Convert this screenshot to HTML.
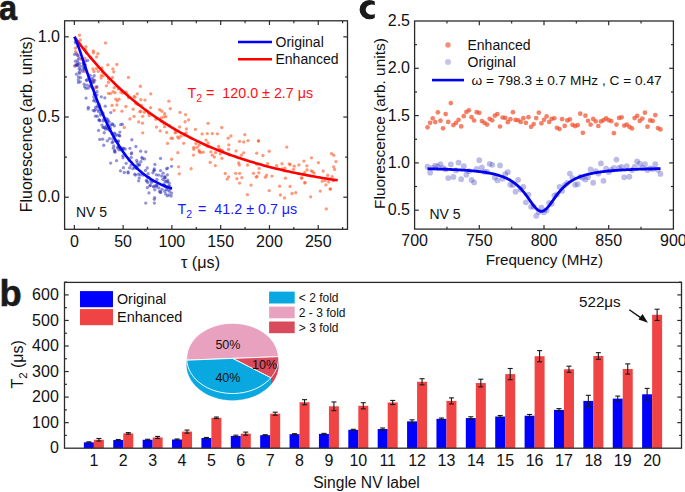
<!DOCTYPE html>
<html><head><meta charset="utf-8"><style>
html,body{margin:0;padding:0;background:#fff;width:685px;height:492px;overflow:hidden}
svg{display:block;font-family:"Liberation Sans", sans-serif}
</style></head><body>
<svg width="685" height="492" viewBox="0 0 685 492">
<defs>
<clipPath id="clipa"><rect x="64.6" y="20.8" width="282.9" height="208.5"/></clipPath>
<clipPath id="clipcl"><rect x="350" y="0" width="24.8" height="30"/></clipPath>
<clipPath id="clipc"><rect x="414.6" y="21.0" width="258.79999999999995" height="208.1"/></clipPath>
</defs>
<rect width="685" height="492" fill="#fff"/>
<g clip-path="url(#clipa)">
<circle cx="159.65" cy="109.73" r="1.65" fill="#ff5a28" fill-opacity="0.62"/>
<circle cx="93.43" cy="52.76" r="1.65" fill="#ff5a28" fill-opacity="0.62"/>
<circle cx="215.5" cy="152.67" r="1.65" fill="#ff5a28" fill-opacity="0.62"/>
<circle cx="208.01" cy="142.91" r="1.65" fill="#ff5a28" fill-opacity="0.62"/>
<circle cx="84.23" cy="64.52" r="1.65" fill="#ff5a28" fill-opacity="0.62"/>
<circle cx="98.25" cy="71.3" r="1.65" fill="#ff5a28" fill-opacity="0.62"/>
<circle cx="186.17" cy="132.99" r="1.65" fill="#ff5a28" fill-opacity="0.62"/>
<circle cx="133.15" cy="109.22" r="1.65" fill="#ff5a28" fill-opacity="0.62"/>
<circle cx="239.61" cy="141.39" r="1.65" fill="#ff5a28" fill-opacity="0.62"/>
<circle cx="178.84" cy="138.18" r="1.65" fill="#ff5a28" fill-opacity="0.62"/>
<circle cx="331.49" cy="153.6" r="1.65" fill="#ff5a28" fill-opacity="0.62"/>
<circle cx="150.64" cy="107.67" r="1.65" fill="#ff5a28" fill-opacity="0.62"/>
<circle cx="112.35" cy="77.49" r="1.65" fill="#ff5a28" fill-opacity="0.62"/>
<circle cx="289.31" cy="163.81" r="1.65" fill="#ff5a28" fill-opacity="0.62"/>
<circle cx="121.96" cy="111.17" r="1.65" fill="#ff5a28" fill-opacity="0.62"/>
<circle cx="172.44" cy="138.42" r="1.65" fill="#ff5a28" fill-opacity="0.62"/>
<circle cx="218.63" cy="146.36" r="1.65" fill="#ff5a28" fill-opacity="0.62"/>
<circle cx="128.6" cy="97.68" r="1.65" fill="#ff5a28" fill-opacity="0.62"/>
<circle cx="253.57" cy="173.29" r="1.65" fill="#ff5a28" fill-opacity="0.62"/>
<circle cx="228.59" cy="149.32" r="1.65" fill="#ff5a28" fill-opacity="0.62"/>
<circle cx="193.72" cy="147.43" r="1.65" fill="#ff5a28" fill-opacity="0.62"/>
<circle cx="258.46" cy="140.99" r="1.65" fill="#ff5a28" fill-opacity="0.62"/>
<circle cx="138.65" cy="121.94" r="1.65" fill="#ff5a28" fill-opacity="0.62"/>
<circle cx="304.86" cy="182.37" r="1.65" fill="#ff5a28" fill-opacity="0.62"/>
<circle cx="266.48" cy="175.26" r="1.65" fill="#ff5a28" fill-opacity="0.62"/>
<circle cx="105.45" cy="42.94" r="1.65" fill="#ff5a28" fill-opacity="0.62"/>
<circle cx="184.48" cy="135.03" r="1.65" fill="#ff5a28" fill-opacity="0.62"/>
<circle cx="203.14" cy="152.14" r="1.65" fill="#ff5a28" fill-opacity="0.62"/>
<circle cx="84.68" cy="71.63" r="1.65" fill="#ff5a28" fill-opacity="0.62"/>
<circle cx="225.28" cy="173.5" r="1.65" fill="#ff5a28" fill-opacity="0.62"/>
<circle cx="304.95" cy="183.08" r="1.65" fill="#ff5a28" fill-opacity="0.62"/>
<circle cx="230.91" cy="135.99" r="1.65" fill="#ff5a28" fill-opacity="0.62"/>
<circle cx="227.09" cy="179.09" r="1.65" fill="#ff5a28" fill-opacity="0.62"/>
<circle cx="323.17" cy="171.01" r="1.65" fill="#ff5a28" fill-opacity="0.62"/>
<circle cx="199.23" cy="145.03" r="1.65" fill="#ff5a28" fill-opacity="0.62"/>
<circle cx="259.12" cy="168.38" r="1.65" fill="#ff5a28" fill-opacity="0.62"/>
<circle cx="244.8" cy="134.69" r="1.65" fill="#ff5a28" fill-opacity="0.62"/>
<circle cx="149.31" cy="115.66" r="1.65" fill="#ff5a28" fill-opacity="0.62"/>
<circle cx="175.97" cy="132.27" r="1.65" fill="#ff5a28" fill-opacity="0.62"/>
<circle cx="195.96" cy="143.58" r="1.65" fill="#ff5a28" fill-opacity="0.62"/>
<circle cx="118.62" cy="87.94" r="1.65" fill="#ff5a28" fill-opacity="0.62"/>
<circle cx="276.7" cy="165.63" r="1.65" fill="#ff5a28" fill-opacity="0.62"/>
<circle cx="108.42" cy="82.49" r="1.65" fill="#ff5a28" fill-opacity="0.62"/>
<circle cx="303.88" cy="161.11" r="1.65" fill="#ff5a28" fill-opacity="0.62"/>
<circle cx="95.58" cy="87.23" r="1.65" fill="#ff5a28" fill-opacity="0.62"/>
<circle cx="307.03" cy="169.88" r="1.65" fill="#ff5a28" fill-opacity="0.62"/>
<circle cx="290.15" cy="164.66" r="1.65" fill="#ff5a28" fill-opacity="0.62"/>
<circle cx="183.74" cy="143.31" r="1.65" fill="#ff5a28" fill-opacity="0.62"/>
<circle cx="168.85" cy="101.21" r="1.65" fill="#ff5a28" fill-opacity="0.62"/>
<circle cx="114.11" cy="110.46" r="1.65" fill="#ff5a28" fill-opacity="0.62"/>
<circle cx="120.77" cy="92.12" r="1.65" fill="#ff5a28" fill-opacity="0.62"/>
<circle cx="202.09" cy="133.97" r="1.65" fill="#ff5a28" fill-opacity="0.62"/>
<circle cx="229.52" cy="154.95" r="1.65" fill="#ff5a28" fill-opacity="0.62"/>
<circle cx="184.7" cy="134.26" r="1.65" fill="#ff5a28" fill-opacity="0.62"/>
<circle cx="171.61" cy="159.24" r="1.65" fill="#ff5a28" fill-opacity="0.62"/>
<circle cx="256.22" cy="177.08" r="1.65" fill="#ff5a28" fill-opacity="0.62"/>
<circle cx="210.13" cy="162.47" r="1.65" fill="#ff5a28" fill-opacity="0.62"/>
<circle cx="88.58" cy="77.88" r="1.65" fill="#ff5a28" fill-opacity="0.62"/>
<circle cx="311.28" cy="170.86" r="1.65" fill="#ff5a28" fill-opacity="0.62"/>
<circle cx="284.51" cy="197.93" r="1.65" fill="#ff5a28" fill-opacity="0.62"/>
<circle cx="177.7" cy="136.93" r="1.65" fill="#ff5a28" fill-opacity="0.62"/>
<circle cx="241.42" cy="155.13" r="1.65" fill="#ff5a28" fill-opacity="0.62"/>
<circle cx="90.75" cy="57.72" r="1.65" fill="#ff5a28" fill-opacity="0.62"/>
<circle cx="117.1" cy="86.36" r="1.65" fill="#ff5a28" fill-opacity="0.62"/>
<circle cx="163.92" cy="123.61" r="1.65" fill="#ff5a28" fill-opacity="0.62"/>
<circle cx="114.2" cy="87.63" r="1.65" fill="#ff5a28" fill-opacity="0.62"/>
<circle cx="101.08" cy="78.07" r="1.65" fill="#ff5a28" fill-opacity="0.62"/>
<circle cx="304.65" cy="172.49" r="1.65" fill="#ff5a28" fill-opacity="0.62"/>
<circle cx="236.09" cy="150.96" r="1.65" fill="#ff5a28" fill-opacity="0.62"/>
<circle cx="165.85" cy="116.7" r="1.65" fill="#ff5a28" fill-opacity="0.62"/>
<circle cx="170.27" cy="108.64" r="1.65" fill="#ff5a28" fill-opacity="0.62"/>
<circle cx="335.93" cy="161.58" r="1.65" fill="#ff5a28" fill-opacity="0.62"/>
<circle cx="197.09" cy="147.31" r="1.65" fill="#ff5a28" fill-opacity="0.62"/>
<circle cx="101.27" cy="75.63" r="1.65" fill="#ff5a28" fill-opacity="0.62"/>
<circle cx="164.6" cy="126.67" r="1.65" fill="#ff5a28" fill-opacity="0.62"/>
<circle cx="116.88" cy="64.5" r="1.65" fill="#ff5a28" fill-opacity="0.62"/>
<circle cx="80.44" cy="40.01" r="1.65" fill="#ff5a28" fill-opacity="0.62"/>
<circle cx="112.97" cy="91.74" r="1.65" fill="#ff5a28" fill-opacity="0.62"/>
<circle cx="217.42" cy="133.83" r="1.65" fill="#ff5a28" fill-opacity="0.62"/>
<circle cx="332.08" cy="176.67" r="1.65" fill="#ff5a28" fill-opacity="0.62"/>
<circle cx="301.75" cy="177.79" r="1.65" fill="#ff5a28" fill-opacity="0.62"/>
<circle cx="170.94" cy="138.03" r="1.65" fill="#ff5a28" fill-opacity="0.62"/>
<circle cx="118.35" cy="88.93" r="1.65" fill="#ff5a28" fill-opacity="0.62"/>
<circle cx="279.55" cy="186.15" r="1.65" fill="#ff5a28" fill-opacity="0.62"/>
<circle cx="161.19" cy="118.02" r="1.65" fill="#ff5a28" fill-opacity="0.62"/>
<circle cx="333.77" cy="155.2" r="1.65" fill="#ff5a28" fill-opacity="0.62"/>
<circle cx="298.93" cy="165.02" r="1.65" fill="#ff5a28" fill-opacity="0.62"/>
<circle cx="269.23" cy="190.59" r="1.65" fill="#ff5a28" fill-opacity="0.62"/>
<circle cx="134.08" cy="116.41" r="1.65" fill="#ff5a28" fill-opacity="0.62"/>
<circle cx="81.99" cy="58.93" r="1.65" fill="#ff5a28" fill-opacity="0.62"/>
<circle cx="81.71" cy="59.18" r="1.65" fill="#ff5a28" fill-opacity="0.62"/>
<circle cx="256.76" cy="153.2" r="1.65" fill="#ff5a28" fill-opacity="0.62"/>
<circle cx="326.29" cy="208.91" r="1.65" fill="#ff5a28" fill-opacity="0.62"/>
<circle cx="334.59" cy="169.44" r="1.65" fill="#ff5a28" fill-opacity="0.62"/>
<circle cx="325.89" cy="184.88" r="1.65" fill="#ff5a28" fill-opacity="0.62"/>
<circle cx="134.1" cy="96.49" r="1.65" fill="#ff5a28" fill-opacity="0.62"/>
<circle cx="126.17" cy="92.21" r="1.65" fill="#ff5a28" fill-opacity="0.62"/>
<circle cx="311.49" cy="157.81" r="1.65" fill="#ff5a28" fill-opacity="0.62"/>
<circle cx="295.72" cy="192.73" r="1.65" fill="#ff5a28" fill-opacity="0.62"/>
<circle cx="284.97" cy="168.2" r="1.65" fill="#ff5a28" fill-opacity="0.62"/>
<circle cx="96.68" cy="87.86" r="1.65" fill="#ff5a28" fill-opacity="0.62"/>
<circle cx="280.41" cy="195.01" r="1.65" fill="#ff5a28" fill-opacity="0.62"/>
<circle cx="271.93" cy="176.11" r="1.65" fill="#ff5a28" fill-opacity="0.62"/>
<circle cx="282.21" cy="168.94" r="1.65" fill="#ff5a28" fill-opacity="0.62"/>
<circle cx="161.94" cy="111.26" r="1.65" fill="#ff5a28" fill-opacity="0.62"/>
<circle cx="178.61" cy="166.84" r="1.65" fill="#ff5a28" fill-opacity="0.62"/>
<circle cx="180.08" cy="112.39" r="1.65" fill="#ff5a28" fill-opacity="0.62"/>
<circle cx="119.13" cy="99.07" r="1.65" fill="#ff5a28" fill-opacity="0.62"/>
<circle cx="107.82" cy="64.95" r="1.65" fill="#ff5a28" fill-opacity="0.62"/>
<circle cx="286.78" cy="147.1" r="1.65" fill="#ff5a28" fill-opacity="0.62"/>
<circle cx="112.86" cy="68.91" r="1.65" fill="#ff5a28" fill-opacity="0.62"/>
<circle cx="247.47" cy="194.7" r="1.65" fill="#ff5a28" fill-opacity="0.62"/>
<circle cx="166.65" cy="132.41" r="1.65" fill="#ff5a28" fill-opacity="0.62"/>
<circle cx="78.11" cy="55.73" r="1.65" fill="#ff5a28" fill-opacity="0.62"/>
<circle cx="330.08" cy="189.02" r="1.65" fill="#ff5a28" fill-opacity="0.62"/>
<circle cx="320.26" cy="191.09" r="1.65" fill="#ff5a28" fill-opacity="0.62"/>
<circle cx="188.62" cy="119.82" r="1.65" fill="#ff5a28" fill-opacity="0.62"/>
<circle cx="129.94" cy="118.95" r="1.65" fill="#ff5a28" fill-opacity="0.62"/>
<circle cx="140.69" cy="111.26" r="1.65" fill="#ff5a28" fill-opacity="0.62"/>
<circle cx="228.82" cy="144.85" r="1.65" fill="#ff5a28" fill-opacity="0.62"/>
<circle cx="142.67" cy="116.28" r="1.65" fill="#ff5a28" fill-opacity="0.62"/>
<circle cx="314.04" cy="173.03" r="1.65" fill="#ff5a28" fill-opacity="0.62"/>
<circle cx="167.54" cy="143.47" r="1.65" fill="#ff5a28" fill-opacity="0.62"/>
<circle cx="312.54" cy="171.6" r="1.65" fill="#ff5a28" fill-opacity="0.62"/>
<circle cx="185.14" cy="121.74" r="1.65" fill="#ff5a28" fill-opacity="0.62"/>
<circle cx="214.43" cy="157.06" r="1.65" fill="#ff5a28" fill-opacity="0.62"/>
<circle cx="212.24" cy="133.63" r="1.65" fill="#ff5a28" fill-opacity="0.62"/>
<circle cx="122.58" cy="93" r="1.65" fill="#ff5a28" fill-opacity="0.62"/>
<circle cx="75.39" cy="48.2" r="1.65" fill="#ff5a28" fill-opacity="0.62"/>
<circle cx="199.07" cy="150.47" r="1.65" fill="#ff5a28" fill-opacity="0.62"/>
<circle cx="265.36" cy="177.3" r="1.65" fill="#ff5a28" fill-opacity="0.62"/>
<circle cx="210.88" cy="151.85" r="1.65" fill="#ff5a28" fill-opacity="0.62"/>
<circle cx="220.65" cy="150.18" r="1.65" fill="#ff5a28" fill-opacity="0.62"/>
<circle cx="221.93" cy="158.36" r="1.65" fill="#ff5a28" fill-opacity="0.62"/>
<circle cx="139.81" cy="111.87" r="1.65" fill="#ff5a28" fill-opacity="0.62"/>
<circle cx="208.08" cy="123.35" r="1.65" fill="#ff5a28" fill-opacity="0.62"/>
<circle cx="222.31" cy="150.31" r="1.65" fill="#ff5a28" fill-opacity="0.62"/>
<circle cx="191.1" cy="168.74" r="1.65" fill="#ff5a28" fill-opacity="0.62"/>
<circle cx="235.69" cy="173.33" r="1.65" fill="#ff5a28" fill-opacity="0.62"/>
<circle cx="256.81" cy="164.16" r="1.65" fill="#ff5a28" fill-opacity="0.62"/>
<circle cx="193.5" cy="155.07" r="1.65" fill="#ff5a28" fill-opacity="0.62"/>
<circle cx="322.34" cy="181.19" r="1.65" fill="#ff5a28" fill-opacity="0.62"/>
<circle cx="258.52" cy="140.84" r="1.65" fill="#ff5a28" fill-opacity="0.62"/>
<circle cx="142.73" cy="132.81" r="1.65" fill="#ff5a28" fill-opacity="0.62"/>
<circle cx="221.73" cy="127.51" r="1.65" fill="#ff5a28" fill-opacity="0.62"/>
<circle cx="110.47" cy="93.61" r="1.65" fill="#ff5a28" fill-opacity="0.62"/>
<circle cx="106.39" cy="85.83" r="1.65" fill="#ff5a28" fill-opacity="0.62"/>
<circle cx="137.74" cy="104.54" r="1.65" fill="#ff5a28" fill-opacity="0.62"/>
<circle cx="93.61" cy="80.57" r="1.65" fill="#ff5a28" fill-opacity="0.62"/>
<circle cx="310.62" cy="196.82" r="1.65" fill="#ff5a28" fill-opacity="0.62"/>
<circle cx="115.03" cy="92.68" r="1.65" fill="#ff5a28" fill-opacity="0.62"/>
<circle cx="112.01" cy="105.43" r="1.65" fill="#ff5a28" fill-opacity="0.62"/>
<circle cx="306.88" cy="165.85" r="1.65" fill="#ff5a28" fill-opacity="0.62"/>
<circle cx="325.23" cy="180.38" r="1.65" fill="#ff5a28" fill-opacity="0.62"/>
<circle cx="179.25" cy="173.82" r="1.65" fill="#ff5a28" fill-opacity="0.62"/>
<circle cx="293.61" cy="169.32" r="1.65" fill="#ff5a28" fill-opacity="0.62"/>
<circle cx="116.88" cy="104.93" r="1.65" fill="#ff5a28" fill-opacity="0.62"/>
<circle cx="163.67" cy="116.9" r="1.65" fill="#ff5a28" fill-opacity="0.62"/>
<circle cx="125.91" cy="106.5" r="1.65" fill="#ff5a28" fill-opacity="0.62"/>
<circle cx="79.49" cy="35.14" r="1.65" fill="#ff5a28" fill-opacity="0.62"/>
<circle cx="220.29" cy="153.85" r="1.65" fill="#ff5a28" fill-opacity="0.62"/>
<circle cx="161.67" cy="121.57" r="1.65" fill="#ff5a28" fill-opacity="0.62"/>
<circle cx="238.69" cy="162.97" r="1.65" fill="#ff5a28" fill-opacity="0.62"/>
<circle cx="333.82" cy="180.14" r="1.65" fill="#ff5a28" fill-opacity="0.62"/>
<circle cx="282" cy="163.76" r="1.65" fill="#ff5a28" fill-opacity="0.62"/>
<circle cx="144.3" cy="112.25" r="1.65" fill="#ff5a28" fill-opacity="0.62"/>
<circle cx="84.78" cy="58.37" r="1.65" fill="#ff5a28" fill-opacity="0.62"/>
<circle cx="108.48" cy="93.39" r="1.65" fill="#ff5a28" fill-opacity="0.62"/>
<circle cx="185.57" cy="114.54" r="1.65" fill="#ff5a28" fill-opacity="0.62"/>
<circle cx="142.47" cy="123.15" r="1.65" fill="#ff5a28" fill-opacity="0.62"/>
<circle cx="113.7" cy="71.81" r="1.65" fill="#ff5a28" fill-opacity="0.62"/>
<circle cx="258.84" cy="172.79" r="1.65" fill="#ff5a28" fill-opacity="0.62"/>
<circle cx="97.92" cy="53.63" r="1.65" fill="#ff5a28" fill-opacity="0.62"/>
<circle cx="186.38" cy="128.99" r="1.65" fill="#ff5a28" fill-opacity="0.62"/>
<circle cx="93.43" cy="50.91" r="1.65" fill="#ff5a28" fill-opacity="0.62"/>
<circle cx="285.5" cy="178.17" r="1.65" fill="#ff5a28" fill-opacity="0.62"/>
<circle cx="96.41" cy="68.54" r="1.65" fill="#ff5a28" fill-opacity="0.62"/>
<circle cx="301.6" cy="178.22" r="1.65" fill="#ff5a28" fill-opacity="0.62"/>
<circle cx="193.87" cy="149.24" r="1.65" fill="#ff5a28" fill-opacity="0.62"/>
<circle cx="318.43" cy="162.65" r="1.65" fill="#ff5a28" fill-opacity="0.62"/>
<circle cx="144.91" cy="100.06" r="1.65" fill="#ff5a28" fill-opacity="0.62"/>
<circle cx="137.16" cy="93.89" r="1.65" fill="#ff5a28" fill-opacity="0.62"/>
<circle cx="103.18" cy="75.66" r="1.65" fill="#ff5a28" fill-opacity="0.62"/>
<circle cx="127.5" cy="94.93" r="1.65" fill="#ff5a28" fill-opacity="0.62"/>
<circle cx="156.53" cy="127.09" r="1.65" fill="#ff5a28" fill-opacity="0.62"/>
<circle cx="150.73" cy="93.86" r="1.65" fill="#ff5a28" fill-opacity="0.62"/>
<circle cx="206.07" cy="140.09" r="1.65" fill="#ff5a28" fill-opacity="0.62"/>
<circle cx="79.14" cy="43.29" r="1.65" fill="#ff5a28" fill-opacity="0.62"/>
<circle cx="140.32" cy="86.24" r="1.65" fill="#ff5a28" fill-opacity="0.62"/>
<circle cx="219.5" cy="148.98" r="1.65" fill="#ff5a28" fill-opacity="0.62"/>
<circle cx="124.26" cy="127.52" r="1.65" fill="#ff5a28" fill-opacity="0.62"/>
<circle cx="102.35" cy="72.18" r="1.65" fill="#ff5a28" fill-opacity="0.62"/>
<circle cx="290.05" cy="186.38" r="1.65" fill="#ff5a28" fill-opacity="0.62"/>
<circle cx="294.18" cy="166.16" r="1.65" fill="#ff5a28" fill-opacity="0.62"/>
<circle cx="177.89" cy="152.68" r="1.65" fill="#ff5a28" fill-opacity="0.62"/>
<circle cx="333.12" cy="180.53" r="1.65" fill="#ff5a28" fill-opacity="0.62"/>
<circle cx="164.62" cy="113.76" r="1.65" fill="#ff5a28" fill-opacity="0.62"/>
<circle cx="241.86" cy="177.62" r="1.65" fill="#ff5a28" fill-opacity="0.62"/>
<circle cx="180.95" cy="136.16" r="1.65" fill="#ff5a28" fill-opacity="0.62"/>
<circle cx="108.55" cy="79.08" r="1.65" fill="#ff5a28" fill-opacity="0.62"/>
<circle cx="92.98" cy="68.99" r="1.65" fill="#ff5a28" fill-opacity="0.62"/>
<circle cx="117.35" cy="100.86" r="1.65" fill="#ff5a28" fill-opacity="0.62"/>
<circle cx="96.61" cy="56.9" r="1.65" fill="#ff5a28" fill-opacity="0.62"/>
<circle cx="250.97" cy="185.04" r="1.65" fill="#ff5a28" fill-opacity="0.62"/>
<circle cx="148.61" cy="113.53" r="1.65" fill="#ff5a28" fill-opacity="0.62"/>
<circle cx="195.37" cy="129.42" r="1.65" fill="#ff5a28" fill-opacity="0.62"/>
<circle cx="115.85" cy="99.18" r="1.65" fill="#ff5a28" fill-opacity="0.62"/>
<circle cx="327.68" cy="175.26" r="1.65" fill="#ff5a28" fill-opacity="0.62"/>
<circle cx="330.53" cy="189.03" r="1.65" fill="#ff5a28" fill-opacity="0.62"/>
<circle cx="328.7" cy="181.96" r="1.65" fill="#ff5a28" fill-opacity="0.62"/>
<circle cx="155.89" cy="119.28" r="1.65" fill="#ff5a28" fill-opacity="0.62"/>
<circle cx="174.87" cy="129.75" r="1.65" fill="#ff5a28" fill-opacity="0.62"/>
<circle cx="199.37" cy="151.75" r="1.65" fill="#ff5a28" fill-opacity="0.62"/>
<circle cx="207.3" cy="146.29" r="1.65" fill="#ff5a28" fill-opacity="0.62"/>
<circle cx="75.66" cy="51.55" r="1.65" fill="#ff5a28" fill-opacity="0.62"/>
<circle cx="179.58" cy="126.92" r="1.65" fill="#ff5a28" fill-opacity="0.62"/>
<circle cx="85.33" cy="49.38" r="1.65" fill="#ff5a28" fill-opacity="0.62"/>
<circle cx="135.67" cy="103.26" r="1.65" fill="#ff5a28" fill-opacity="0.62"/>
<circle cx="228.59" cy="176.86" r="1.65" fill="#ff5a28" fill-opacity="0.62"/>
<circle cx="247.55" cy="164.99" r="1.65" fill="#ff5a28" fill-opacity="0.62"/>
<circle cx="262.94" cy="155.48" r="1.65" fill="#ff5a28" fill-opacity="0.62"/>
<circle cx="160.26" cy="130.97" r="1.65" fill="#ff5a28" fill-opacity="0.62"/>
<circle cx="333.72" cy="166.82" r="1.65" fill="#ff5a28" fill-opacity="0.62"/>
<circle cx="243.77" cy="142.01" r="1.65" fill="#ff5a28" fill-opacity="0.62"/>
<circle cx="85.89" cy="46.75" r="1.65" fill="#ff5a28" fill-opacity="0.62"/>
<circle cx="239.59" cy="183.04" r="1.65" fill="#ff5a28" fill-opacity="0.62"/>
<circle cx="267.64" cy="163.7" r="1.65" fill="#ff5a28" fill-opacity="0.62"/>
<circle cx="212.31" cy="155.14" r="1.65" fill="#ff5a28" fill-opacity="0.62"/>
<circle cx="207.2" cy="133.56" r="1.65" fill="#ff5a28" fill-opacity="0.62"/>
<circle cx="292.02" cy="193.5" r="1.65" fill="#ff5a28" fill-opacity="0.62"/>
<circle cx="228.19" cy="138.22" r="1.65" fill="#ff5a28" fill-opacity="0.62"/>
<circle cx="256.97" cy="176.52" r="1.65" fill="#ff5a28" fill-opacity="0.62"/>
<circle cx="134.92" cy="97.19" r="1.65" fill="#ff5a28" fill-opacity="0.62"/>
<circle cx="169.36" cy="125.69" r="1.65" fill="#ff5a28" fill-opacity="0.62"/>
<circle cx="101.99" cy="67.93" r="1.65" fill="#ff5a28" fill-opacity="0.62"/>
<circle cx="239.7" cy="173.31" r="1.65" fill="#ff5a28" fill-opacity="0.62"/>
<circle cx="239.3" cy="164.88" r="1.65" fill="#ff5a28" fill-opacity="0.62"/>
<circle cx="75.23" cy="64.9" r="1.65" fill="#ff5a28" fill-opacity="0.62"/>
<circle cx="284.46" cy="170.81" r="1.65" fill="#ff5a28" fill-opacity="0.62"/>
<circle cx="215.32" cy="165.58" r="1.65" fill="#ff5a28" fill-opacity="0.62"/>
<circle cx="248.01" cy="140.6" r="1.65" fill="#ff5a28" fill-opacity="0.62"/>
<circle cx="140.78" cy="99.65" r="1.65" fill="#ff5a28" fill-opacity="0.62"/>
<circle cx="93.96" cy="71.49" r="1.65" fill="#ff5a28" fill-opacity="0.62"/>
<circle cx="128.41" cy="77.43" r="1.65" fill="#ff5a28" fill-opacity="0.62"/>
<circle cx="269.22" cy="151.23" r="1.65" fill="#ff5a28" fill-opacity="0.62"/>
<circle cx="175.12" cy="132.79" r="1.65" fill="#ff5a28" fill-opacity="0.62"/>
<circle cx="200.52" cy="152.56" r="1.65" fill="#ff5a28" fill-opacity="0.62"/>
<circle cx="236.86" cy="178.68" r="1.65" fill="#ff5a28" fill-opacity="0.62"/>
<circle cx="243.65" cy="152.82" r="1.65" fill="#ff5a28" fill-opacity="0.62"/>
<circle cx="141.24" cy="105.35" r="1.65" fill="#ff5a28" fill-opacity="0.62"/>
<circle cx="146.86" cy="181.22" r="1.65" fill="#2e2eb6" fill-opacity="0.52"/>
<circle cx="75.57" cy="42.89" r="1.65" fill="#2e2eb6" fill-opacity="0.52"/>
<circle cx="80.27" cy="66.31" r="1.65" fill="#2e2eb6" fill-opacity="0.52"/>
<circle cx="141.88" cy="157.51" r="1.65" fill="#2e2eb6" fill-opacity="0.52"/>
<circle cx="140.27" cy="174.83" r="1.65" fill="#2e2eb6" fill-opacity="0.52"/>
<circle cx="119.68" cy="135.96" r="1.65" fill="#2e2eb6" fill-opacity="0.52"/>
<circle cx="119.85" cy="132.12" r="1.65" fill="#2e2eb6" fill-opacity="0.52"/>
<circle cx="93.79" cy="82.21" r="1.65" fill="#2e2eb6" fill-opacity="0.52"/>
<circle cx="169.77" cy="186.19" r="1.65" fill="#2e2eb6" fill-opacity="0.52"/>
<circle cx="119.13" cy="148.05" r="1.65" fill="#2e2eb6" fill-opacity="0.52"/>
<circle cx="154.34" cy="170.16" r="1.65" fill="#2e2eb6" fill-opacity="0.52"/>
<circle cx="100.56" cy="115.09" r="1.65" fill="#2e2eb6" fill-opacity="0.52"/>
<circle cx="94.83" cy="92.88" r="1.65" fill="#2e2eb6" fill-opacity="0.52"/>
<circle cx="131.08" cy="165.15" r="1.65" fill="#2e2eb6" fill-opacity="0.52"/>
<circle cx="88.18" cy="108.89" r="1.65" fill="#2e2eb6" fill-opacity="0.52"/>
<circle cx="87.29" cy="85.1" r="1.65" fill="#2e2eb6" fill-opacity="0.52"/>
<circle cx="154.37" cy="203.07" r="1.65" fill="#2e2eb6" fill-opacity="0.52"/>
<circle cx="142.97" cy="175.02" r="1.65" fill="#2e2eb6" fill-opacity="0.52"/>
<circle cx="96.93" cy="94.95" r="1.65" fill="#2e2eb6" fill-opacity="0.52"/>
<circle cx="76.78" cy="64.69" r="1.65" fill="#2e2eb6" fill-opacity="0.52"/>
<circle cx="74.71" cy="66.04" r="1.65" fill="#2e2eb6" fill-opacity="0.52"/>
<circle cx="103.81" cy="119.2" r="1.65" fill="#2e2eb6" fill-opacity="0.52"/>
<circle cx="88.08" cy="88.23" r="1.65" fill="#2e2eb6" fill-opacity="0.52"/>
<circle cx="156.32" cy="174.83" r="1.65" fill="#2e2eb6" fill-opacity="0.52"/>
<circle cx="74.53" cy="54.43" r="1.65" fill="#2e2eb6" fill-opacity="0.52"/>
<circle cx="86.07" cy="98.12" r="1.65" fill="#2e2eb6" fill-opacity="0.52"/>
<circle cx="164.73" cy="191.34" r="1.65" fill="#2e2eb6" fill-opacity="0.52"/>
<circle cx="102.63" cy="139.15" r="1.65" fill="#2e2eb6" fill-opacity="0.52"/>
<circle cx="110.67" cy="163.11" r="1.65" fill="#2e2eb6" fill-opacity="0.52"/>
<circle cx="131.83" cy="139.74" r="1.65" fill="#2e2eb6" fill-opacity="0.52"/>
<circle cx="109.54" cy="138.67" r="1.65" fill="#2e2eb6" fill-opacity="0.52"/>
<circle cx="79.06" cy="58.22" r="1.65" fill="#2e2eb6" fill-opacity="0.52"/>
<circle cx="84.28" cy="69.49" r="1.65" fill="#2e2eb6" fill-opacity="0.52"/>
<circle cx="165.62" cy="193.89" r="1.65" fill="#2e2eb6" fill-opacity="0.52"/>
<circle cx="98.68" cy="109.83" r="1.65" fill="#2e2eb6" fill-opacity="0.52"/>
<circle cx="92.88" cy="82.54" r="1.65" fill="#2e2eb6" fill-opacity="0.52"/>
<circle cx="110.78" cy="112.59" r="1.65" fill="#2e2eb6" fill-opacity="0.52"/>
<circle cx="153.56" cy="186.78" r="1.65" fill="#2e2eb6" fill-opacity="0.52"/>
<circle cx="135.9" cy="146.5" r="1.65" fill="#2e2eb6" fill-opacity="0.52"/>
<circle cx="127.93" cy="171.96" r="1.65" fill="#2e2eb6" fill-opacity="0.52"/>
<circle cx="144.55" cy="158.92" r="1.65" fill="#2e2eb6" fill-opacity="0.52"/>
<circle cx="118.34" cy="140.91" r="1.65" fill="#2e2eb6" fill-opacity="0.52"/>
<circle cx="147.78" cy="182.59" r="1.65" fill="#2e2eb6" fill-opacity="0.52"/>
<circle cx="79.13" cy="68.76" r="1.65" fill="#2e2eb6" fill-opacity="0.52"/>
<circle cx="164.76" cy="177.97" r="1.65" fill="#2e2eb6" fill-opacity="0.52"/>
<circle cx="107.88" cy="119.53" r="1.65" fill="#2e2eb6" fill-opacity="0.52"/>
<circle cx="103.4" cy="120.91" r="1.65" fill="#2e2eb6" fill-opacity="0.52"/>
<circle cx="99.74" cy="139.44" r="1.65" fill="#2e2eb6" fill-opacity="0.52"/>
<circle cx="138.35" cy="174.15" r="1.65" fill="#2e2eb6" fill-opacity="0.52"/>
<circle cx="112.83" cy="124.44" r="1.65" fill="#2e2eb6" fill-opacity="0.52"/>
<circle cx="90.68" cy="85.84" r="1.65" fill="#2e2eb6" fill-opacity="0.52"/>
<circle cx="162.73" cy="179.31" r="1.65" fill="#2e2eb6" fill-opacity="0.52"/>
<circle cx="122.85" cy="148.37" r="1.65" fill="#2e2eb6" fill-opacity="0.52"/>
<circle cx="171.56" cy="166.29" r="1.65" fill="#2e2eb6" fill-opacity="0.52"/>
<circle cx="118.25" cy="141.59" r="1.65" fill="#2e2eb6" fill-opacity="0.52"/>
<circle cx="83.2" cy="66" r="1.65" fill="#2e2eb6" fill-opacity="0.52"/>
<circle cx="107.71" cy="121.18" r="1.65" fill="#2e2eb6" fill-opacity="0.52"/>
<circle cx="99.56" cy="106.41" r="1.65" fill="#2e2eb6" fill-opacity="0.52"/>
<circle cx="129.92" cy="148.28" r="1.65" fill="#2e2eb6" fill-opacity="0.52"/>
<circle cx="114.62" cy="151.43" r="1.65" fill="#2e2eb6" fill-opacity="0.52"/>
<circle cx="114.73" cy="150.34" r="1.65" fill="#2e2eb6" fill-opacity="0.52"/>
<circle cx="107.35" cy="128.48" r="1.65" fill="#2e2eb6" fill-opacity="0.52"/>
<circle cx="80.41" cy="69.47" r="1.65" fill="#2e2eb6" fill-opacity="0.52"/>
<circle cx="86.63" cy="52.69" r="1.65" fill="#2e2eb6" fill-opacity="0.52"/>
<circle cx="123.46" cy="167.71" r="1.65" fill="#2e2eb6" fill-opacity="0.52"/>
<circle cx="95.42" cy="116.17" r="1.65" fill="#2e2eb6" fill-opacity="0.52"/>
<circle cx="100.79" cy="113.23" r="1.65" fill="#2e2eb6" fill-opacity="0.52"/>
<circle cx="117.85" cy="134.8" r="1.65" fill="#2e2eb6" fill-opacity="0.52"/>
<circle cx="167.41" cy="174.87" r="1.65" fill="#2e2eb6" fill-opacity="0.52"/>
<circle cx="76.48" cy="74.22" r="1.65" fill="#2e2eb6" fill-opacity="0.52"/>
<circle cx="77.5" cy="64.35" r="1.65" fill="#2e2eb6" fill-opacity="0.52"/>
<circle cx="120.52" cy="170.8" r="1.65" fill="#2e2eb6" fill-opacity="0.52"/>
<circle cx="131.64" cy="152.96" r="1.65" fill="#2e2eb6" fill-opacity="0.52"/>
<circle cx="164.77" cy="186.17" r="1.65" fill="#2e2eb6" fill-opacity="0.52"/>
<circle cx="154.89" cy="164.45" r="1.65" fill="#2e2eb6" fill-opacity="0.52"/>
<circle cx="98.59" cy="130.42" r="1.65" fill="#2e2eb6" fill-opacity="0.52"/>
<circle cx="84.99" cy="68.4" r="1.65" fill="#2e2eb6" fill-opacity="0.52"/>
<circle cx="140.89" cy="161.71" r="1.65" fill="#2e2eb6" fill-opacity="0.52"/>
<circle cx="166.2" cy="189.39" r="1.65" fill="#2e2eb6" fill-opacity="0.52"/>
<circle cx="148.96" cy="192.92" r="1.65" fill="#2e2eb6" fill-opacity="0.52"/>
<circle cx="118.97" cy="149.85" r="1.65" fill="#2e2eb6" fill-opacity="0.52"/>
<circle cx="150.67" cy="180.13" r="1.65" fill="#2e2eb6" fill-opacity="0.52"/>
<circle cx="97.04" cy="91.7" r="1.65" fill="#2e2eb6" fill-opacity="0.52"/>
<circle cx="103.99" cy="127.41" r="1.65" fill="#2e2eb6" fill-opacity="0.52"/>
<circle cx="86.84" cy="80.27" r="1.65" fill="#2e2eb6" fill-opacity="0.52"/>
<circle cx="142.5" cy="158.64" r="1.65" fill="#2e2eb6" fill-opacity="0.52"/>
<circle cx="85.29" cy="64.81" r="1.65" fill="#2e2eb6" fill-opacity="0.52"/>
<circle cx="131.22" cy="157.46" r="1.65" fill="#2e2eb6" fill-opacity="0.52"/>
<circle cx="112.21" cy="133.66" r="1.65" fill="#2e2eb6" fill-opacity="0.52"/>
<circle cx="75.38" cy="41.42" r="1.65" fill="#2e2eb6" fill-opacity="0.52"/>
<circle cx="103.77" cy="145.26" r="1.65" fill="#2e2eb6" fill-opacity="0.52"/>
<circle cx="137.23" cy="162.52" r="1.65" fill="#2e2eb6" fill-opacity="0.52"/>
<circle cx="160.57" cy="191.96" r="1.65" fill="#2e2eb6" fill-opacity="0.52"/>
<circle cx="98.46" cy="106.92" r="1.65" fill="#2e2eb6" fill-opacity="0.52"/>
<circle cx="168.06" cy="189.92" r="1.65" fill="#2e2eb6" fill-opacity="0.52"/>
<circle cx="76.48" cy="65.55" r="1.65" fill="#2e2eb6" fill-opacity="0.52"/>
<circle cx="122.97" cy="157.75" r="1.65" fill="#2e2eb6" fill-opacity="0.52"/>
<circle cx="99.45" cy="120.03" r="1.65" fill="#2e2eb6" fill-opacity="0.52"/>
<circle cx="139.46" cy="164.28" r="1.65" fill="#2e2eb6" fill-opacity="0.52"/>
<circle cx="77.68" cy="62.5" r="1.65" fill="#2e2eb6" fill-opacity="0.52"/>
<circle cx="107.33" cy="140.79" r="1.65" fill="#2e2eb6" fill-opacity="0.52"/>
<circle cx="93.68" cy="89.33" r="1.65" fill="#2e2eb6" fill-opacity="0.52"/>
<circle cx="152.11" cy="180.9" r="1.65" fill="#2e2eb6" fill-opacity="0.52"/>
<circle cx="94.37" cy="110.9" r="1.65" fill="#2e2eb6" fill-opacity="0.52"/>
<circle cx="168.97" cy="195.02" r="1.65" fill="#2e2eb6" fill-opacity="0.52"/>
<circle cx="96.87" cy="86.58" r="1.65" fill="#2e2eb6" fill-opacity="0.52"/>
<circle cx="95.96" cy="101.74" r="1.65" fill="#2e2eb6" fill-opacity="0.52"/>
<circle cx="167.22" cy="195.8" r="1.65" fill="#2e2eb6" fill-opacity="0.52"/>
<circle cx="122.72" cy="149.6" r="1.65" fill="#2e2eb6" fill-opacity="0.52"/>
<circle cx="115.04" cy="133.98" r="1.65" fill="#2e2eb6" fill-opacity="0.52"/>
<circle cx="139.26" cy="165.21" r="1.65" fill="#2e2eb6" fill-opacity="0.52"/>
<circle cx="112.74" cy="138.77" r="1.65" fill="#2e2eb6" fill-opacity="0.52"/>
<circle cx="95.13" cy="94.67" r="1.65" fill="#2e2eb6" fill-opacity="0.52"/>
<circle cx="79.41" cy="63.54" r="1.65" fill="#2e2eb6" fill-opacity="0.52"/>
<circle cx="80.22" cy="81.82" r="1.65" fill="#2e2eb6" fill-opacity="0.52"/>
<circle cx="160.55" cy="170.57" r="1.65" fill="#2e2eb6" fill-opacity="0.52"/>
<circle cx="145.83" cy="151.83" r="1.65" fill="#2e2eb6" fill-opacity="0.52"/>
<circle cx="106.47" cy="125.6" r="1.65" fill="#2e2eb6" fill-opacity="0.52"/>
<circle cx="92.45" cy="78.04" r="1.65" fill="#2e2eb6" fill-opacity="0.52"/>
<circle cx="77.47" cy="65.48" r="1.65" fill="#2e2eb6" fill-opacity="0.52"/>
<circle cx="139.17" cy="177.99" r="1.65" fill="#2e2eb6" fill-opacity="0.52"/>
<circle cx="106.71" cy="118.73" r="1.65" fill="#2e2eb6" fill-opacity="0.52"/>
<circle cx="90.87" cy="81.6" r="1.65" fill="#2e2eb6" fill-opacity="0.52"/>
<circle cx="108.64" cy="129.29" r="1.65" fill="#2e2eb6" fill-opacity="0.52"/>
<circle cx="167.57" cy="168.05" r="1.65" fill="#2e2eb6" fill-opacity="0.52"/>
<circle cx="94.59" cy="80.2" r="1.65" fill="#2e2eb6" fill-opacity="0.52"/>
<circle cx="109.14" cy="121.98" r="1.65" fill="#2e2eb6" fill-opacity="0.52"/>
<circle cx="116.54" cy="160.72" r="1.65" fill="#2e2eb6" fill-opacity="0.52"/>
<circle cx="79.16" cy="72" r="1.65" fill="#2e2eb6" fill-opacity="0.52"/>
<circle cx="164.05" cy="184.23" r="1.65" fill="#2e2eb6" fill-opacity="0.52"/>
<circle cx="93.19" cy="110.32" r="1.65" fill="#2e2eb6" fill-opacity="0.52"/>
<circle cx="77.31" cy="41.68" r="1.65" fill="#2e2eb6" fill-opacity="0.52"/>
<circle cx="114.43" cy="133.08" r="1.65" fill="#2e2eb6" fill-opacity="0.52"/>
<circle cx="78.32" cy="76.82" r="1.65" fill="#2e2eb6" fill-opacity="0.52"/>
<circle cx="77.76" cy="46.23" r="1.65" fill="#2e2eb6" fill-opacity="0.52"/>
<circle cx="147.25" cy="167.99" r="1.65" fill="#2e2eb6" fill-opacity="0.52"/>
<circle cx="162.01" cy="189.47" r="1.65" fill="#2e2eb6" fill-opacity="0.52"/>
<circle cx="167.78" cy="180.26" r="1.65" fill="#2e2eb6" fill-opacity="0.52"/>
<circle cx="134.54" cy="167.64" r="1.65" fill="#2e2eb6" fill-opacity="0.52"/>
<circle cx="105.23" cy="106.22" r="1.65" fill="#2e2eb6" fill-opacity="0.52"/>
<circle cx="101.24" cy="96.82" r="1.65" fill="#2e2eb6" fill-opacity="0.52"/>
<circle cx="163.76" cy="185.37" r="1.65" fill="#2e2eb6" fill-opacity="0.52"/>
<circle cx="136.2" cy="165.82" r="1.65" fill="#2e2eb6" fill-opacity="0.52"/>
<circle cx="97.17" cy="105.95" r="1.65" fill="#2e2eb6" fill-opacity="0.52"/>
<circle cx="120.71" cy="124.7" r="1.65" fill="#2e2eb6" fill-opacity="0.52"/>
<circle cx="112.06" cy="142.66" r="1.65" fill="#2e2eb6" fill-opacity="0.52"/>
<circle cx="98.85" cy="119.98" r="1.65" fill="#2e2eb6" fill-opacity="0.52"/>
<circle cx="164.89" cy="181.05" r="1.65" fill="#2e2eb6" fill-opacity="0.52"/>
<circle cx="92.2" cy="87.78" r="1.65" fill="#2e2eb6" fill-opacity="0.52"/>
<circle cx="154.62" cy="197.62" r="1.65" fill="#2e2eb6" fill-opacity="0.52"/>
<circle cx="149.74" cy="185.87" r="1.65" fill="#2e2eb6" fill-opacity="0.52"/>
<circle cx="105.53" cy="129.13" r="1.65" fill="#2e2eb6" fill-opacity="0.52"/>
<circle cx="109.66" cy="130.5" r="1.65" fill="#2e2eb6" fill-opacity="0.52"/>
<circle cx="93.6" cy="100.85" r="1.65" fill="#2e2eb6" fill-opacity="0.52"/>
<circle cx="147.8" cy="177.27" r="1.65" fill="#2e2eb6" fill-opacity="0.52"/>
<circle cx="77.66" cy="55.26" r="1.65" fill="#2e2eb6" fill-opacity="0.52"/>
<circle cx="128.26" cy="172.91" r="1.65" fill="#2e2eb6" fill-opacity="0.52"/>
<circle cx="160.54" cy="158.45" r="1.65" fill="#2e2eb6" fill-opacity="0.52"/>
<circle cx="170.72" cy="188.71" r="1.65" fill="#2e2eb6" fill-opacity="0.52"/>
<circle cx="83.76" cy="68.23" r="1.65" fill="#2e2eb6" fill-opacity="0.52"/>
<circle cx="122.98" cy="155.64" r="1.65" fill="#2e2eb6" fill-opacity="0.52"/>
<circle cx="97.2" cy="116.21" r="1.65" fill="#2e2eb6" fill-opacity="0.52"/>
<circle cx="115.02" cy="152.16" r="1.65" fill="#2e2eb6" fill-opacity="0.52"/>
<circle cx="147.32" cy="187.72" r="1.65" fill="#2e2eb6" fill-opacity="0.52"/>
<circle cx="156.98" cy="185.43" r="1.65" fill="#2e2eb6" fill-opacity="0.52"/>
<circle cx="156.38" cy="186.96" r="1.65" fill="#2e2eb6" fill-opacity="0.52"/>
<circle cx="103.01" cy="127.32" r="1.65" fill="#2e2eb6" fill-opacity="0.52"/>
<circle cx="146.35" cy="180.45" r="1.65" fill="#2e2eb6" fill-opacity="0.52"/>
<circle cx="93.79" cy="97.03" r="1.65" fill="#2e2eb6" fill-opacity="0.52"/>
<circle cx="89.31" cy="78.4" r="1.65" fill="#2e2eb6" fill-opacity="0.52"/>
<circle cx="160.61" cy="192.61" r="1.65" fill="#2e2eb6" fill-opacity="0.52"/>
<circle cx="112.99" cy="141.74" r="1.65" fill="#2e2eb6" fill-opacity="0.52"/>
<circle cx="171.17" cy="196" r="1.65" fill="#2e2eb6" fill-opacity="0.52"/>
<circle cx="153.22" cy="181.04" r="1.65" fill="#2e2eb6" fill-opacity="0.52"/>
<circle cx="138.09" cy="164.9" r="1.65" fill="#2e2eb6" fill-opacity="0.52"/>
<circle cx="120.67" cy="149.83" r="1.65" fill="#2e2eb6" fill-opacity="0.52"/>
<circle cx="154.26" cy="168.82" r="1.65" fill="#2e2eb6" fill-opacity="0.52"/>
<circle cx="78.29" cy="79.77" r="1.65" fill="#2e2eb6" fill-opacity="0.52"/>
<circle cx="103" cy="113.15" r="1.65" fill="#2e2eb6" fill-opacity="0.52"/>
<circle cx="169.27" cy="183.22" r="1.65" fill="#2e2eb6" fill-opacity="0.52"/>
<circle cx="131.25" cy="153.82" r="1.65" fill="#2e2eb6" fill-opacity="0.52"/>
<circle cx="158.85" cy="187.9" r="1.65" fill="#2e2eb6" fill-opacity="0.52"/>
<circle cx="118.17" cy="146.95" r="1.65" fill="#2e2eb6" fill-opacity="0.52"/>
<circle cx="166.61" cy="168.84" r="1.65" fill="#2e2eb6" fill-opacity="0.52"/>
<circle cx="84.67" cy="86.72" r="1.65" fill="#2e2eb6" fill-opacity="0.52"/>
<circle cx="95.59" cy="109.68" r="1.65" fill="#2e2eb6" fill-opacity="0.52"/>
<circle cx="110.32" cy="128.15" r="1.65" fill="#2e2eb6" fill-opacity="0.52"/>
<circle cx="99.22" cy="104.37" r="1.65" fill="#2e2eb6" fill-opacity="0.52"/>
<circle cx="132.83" cy="168.7" r="1.65" fill="#2e2eb6" fill-opacity="0.52"/>
<circle cx="75.47" cy="61.2" r="1.65" fill="#2e2eb6" fill-opacity="0.52"/>
<circle cx="106.28" cy="127.74" r="1.65" fill="#2e2eb6" fill-opacity="0.52"/>
<circle cx="104.81" cy="127.87" r="1.65" fill="#2e2eb6" fill-opacity="0.52"/>
<circle cx="94.2" cy="94.45" r="1.65" fill="#2e2eb6" fill-opacity="0.52"/>
<circle cx="80.53" cy="77.65" r="1.65" fill="#2e2eb6" fill-opacity="0.52"/>
<circle cx="84.25" cy="84.17" r="1.65" fill="#2e2eb6" fill-opacity="0.52"/>
<circle cx="136.71" cy="160.41" r="1.65" fill="#2e2eb6" fill-opacity="0.52"/>
<circle cx="83.25" cy="63.05" r="1.65" fill="#2e2eb6" fill-opacity="0.52"/>
<circle cx="114.33" cy="125.88" r="1.65" fill="#2e2eb6" fill-opacity="0.52"/>
<circle cx="101.99" cy="125.07" r="1.65" fill="#2e2eb6" fill-opacity="0.52"/>
<circle cx="104.83" cy="97.78" r="1.65" fill="#2e2eb6" fill-opacity="0.52"/>
<circle cx="129.62" cy="167.86" r="1.65" fill="#2e2eb6" fill-opacity="0.52"/>
<circle cx="158.66" cy="175.08" r="1.65" fill="#2e2eb6" fill-opacity="0.52"/>
<circle cx="171.58" cy="193.1" r="1.65" fill="#2e2eb6" fill-opacity="0.52"/>
<circle cx="145.38" cy="170.42" r="1.65" fill="#2e2eb6" fill-opacity="0.52"/>
<circle cx="94.22" cy="75.76" r="1.65" fill="#2e2eb6" fill-opacity="0.52"/>
<circle cx="115.69" cy="141.08" r="1.65" fill="#2e2eb6" fill-opacity="0.52"/>
<circle cx="154.38" cy="199.29" r="1.65" fill="#2e2eb6" fill-opacity="0.52"/>
<circle cx="119.32" cy="135.57" r="1.65" fill="#2e2eb6" fill-opacity="0.52"/>
<circle cx="90.21" cy="75.29" r="1.65" fill="#2e2eb6" fill-opacity="0.52"/>
<circle cx="136.85" cy="167.37" r="1.65" fill="#2e2eb6" fill-opacity="0.52"/>
<circle cx="163.11" cy="173.19" r="1.65" fill="#2e2eb6" fill-opacity="0.52"/>
<circle cx="110.53" cy="125.26" r="1.65" fill="#2e2eb6" fill-opacity="0.52"/>
<circle cx="123.57" cy="148.42" r="1.65" fill="#2e2eb6" fill-opacity="0.52"/>
<circle cx="125.2" cy="148.98" r="1.65" fill="#2e2eb6" fill-opacity="0.52"/>
<circle cx="164.64" cy="176.75" r="1.65" fill="#2e2eb6" fill-opacity="0.52"/>
<circle cx="152.87" cy="172.85" r="1.65" fill="#2e2eb6" fill-opacity="0.52"/>
<circle cx="168.68" cy="185.86" r="1.65" fill="#2e2eb6" fill-opacity="0.52"/>
<circle cx="166.35" cy="181.66" r="1.65" fill="#2e2eb6" fill-opacity="0.52"/>
<circle cx="169.52" cy="191.34" r="1.65" fill="#2e2eb6" fill-opacity="0.52"/>
<circle cx="164.7" cy="185.79" r="1.65" fill="#2e2eb6" fill-opacity="0.52"/>
<circle cx="112.2" cy="124.01" r="1.65" fill="#2e2eb6" fill-opacity="0.52"/>
<circle cx="154.79" cy="189.78" r="1.65" fill="#2e2eb6" fill-opacity="0.52"/>
<circle cx="89.99" cy="86.24" r="1.65" fill="#2e2eb6" fill-opacity="0.52"/>
<circle cx="113.81" cy="145.97" r="1.65" fill="#2e2eb6" fill-opacity="0.52"/>
<circle cx="156.92" cy="179.52" r="1.65" fill="#2e2eb6" fill-opacity="0.52"/>
<circle cx="95.63" cy="107.38" r="1.65" fill="#2e2eb6" fill-opacity="0.52"/>
<circle cx="113.35" cy="148.17" r="1.65" fill="#2e2eb6" fill-opacity="0.52"/>
<circle cx="86.36" cy="80.07" r="1.65" fill="#2e2eb6" fill-opacity="0.52"/>
<circle cx="98.46" cy="111.6" r="1.65" fill="#2e2eb6" fill-opacity="0.52"/>
<circle cx="78.36" cy="82.41" r="1.65" fill="#2e2eb6" fill-opacity="0.52"/>
<circle cx="129.21" cy="160.51" r="1.65" fill="#2e2eb6" fill-opacity="0.52"/>
<circle cx="156.12" cy="185.18" r="1.65" fill="#2e2eb6" fill-opacity="0.52"/>
<circle cx="85.84" cy="88.32" r="1.65" fill="#2e2eb6" fill-opacity="0.52"/>
<circle cx="135.52" cy="175.05" r="1.65" fill="#2e2eb6" fill-opacity="0.52"/>
<circle cx="104.23" cy="132.74" r="1.65" fill="#2e2eb6" fill-opacity="0.52"/>
<circle cx="115.89" cy="135.59" r="1.65" fill="#2e2eb6" fill-opacity="0.52"/>
<circle cx="138.63" cy="180.79" r="1.65" fill="#2e2eb6" fill-opacity="0.52"/>
<circle cx="76.64" cy="53.56" r="1.65" fill="#2e2eb6" fill-opacity="0.52"/>
<circle cx="134.73" cy="174.18" r="1.65" fill="#2e2eb6" fill-opacity="0.52"/>
<circle cx="148.84" cy="177.52" r="1.65" fill="#2e2eb6" fill-opacity="0.52"/>
<circle cx="150.44" cy="185.38" r="1.65" fill="#2e2eb6" fill-opacity="0.52"/>
<circle cx="120.52" cy="147.64" r="1.65" fill="#2e2eb6" fill-opacity="0.52"/>
<circle cx="84.8" cy="67.44" r="1.65" fill="#2e2eb6" fill-opacity="0.52"/>
<circle cx="83.3" cy="63.48" r="1.65" fill="#2e2eb6" fill-opacity="0.52"/>
<circle cx="117.47" cy="147.74" r="1.65" fill="#2e2eb6" fill-opacity="0.52"/>
<circle cx="136.44" cy="168.41" r="1.65" fill="#2e2eb6" fill-opacity="0.52"/>
<circle cx="82.38" cy="71.16" r="1.65" fill="#2e2eb6" fill-opacity="0.52"/>
<circle cx="124.25" cy="172.49" r="1.65" fill="#2e2eb6" fill-opacity="0.52"/>
<circle cx="79.65" cy="73.27" r="1.65" fill="#2e2eb6" fill-opacity="0.52"/>
<circle cx="167.11" cy="187.32" r="1.65" fill="#2e2eb6" fill-opacity="0.52"/>
<circle cx="87.64" cy="60.43" r="1.65" fill="#2e2eb6" fill-opacity="0.52"/>
<circle cx="145.77" cy="203.1" r="1.65" fill="#2e2eb6" fill-opacity="0.52"/>
<circle cx="153.86" cy="170.84" r="1.65" fill="#2e2eb6" fill-opacity="0.52"/>
<circle cx="122.34" cy="124.25" r="1.65" fill="#2e2eb6" fill-opacity="0.52"/>
<circle cx="167.68" cy="181.86" r="1.65" fill="#2e2eb6" fill-opacity="0.52"/>
<circle cx="151.26" cy="182.7" r="1.65" fill="#2e2eb6" fill-opacity="0.52"/>
<circle cx="165.14" cy="177.45" r="1.65" fill="#2e2eb6" fill-opacity="0.52"/>
<circle cx="148.12" cy="173.67" r="1.65" fill="#2e2eb6" fill-opacity="0.52"/>
<circle cx="89.84" cy="80.87" r="1.65" fill="#2e2eb6" fill-opacity="0.52"/>
<circle cx="153.92" cy="186.15" r="1.65" fill="#2e2eb6" fill-opacity="0.52"/>
<circle cx="88.36" cy="107.29" r="1.65" fill="#2e2eb6" fill-opacity="0.52"/>
<circle cx="94.68" cy="99.61" r="1.65" fill="#2e2eb6" fill-opacity="0.52"/>
<circle cx="100" cy="120.7" r="1.65" fill="#2e2eb6" fill-opacity="0.52"/>
<circle cx="77.95" cy="59.97" r="1.65" fill="#2e2eb6" fill-opacity="0.52"/>
<circle cx="92.12" cy="80.16" r="1.65" fill="#2e2eb6" fill-opacity="0.52"/>
<circle cx="140.66" cy="151.2" r="1.65" fill="#2e2eb6" fill-opacity="0.52"/>
<circle cx="161.7" cy="175.99" r="1.65" fill="#2e2eb6" fill-opacity="0.52"/>
<circle cx="85.58" cy="61.06" r="1.65" fill="#2e2eb6" fill-opacity="0.52"/>
<circle cx="126.13" cy="163.37" r="1.65" fill="#2e2eb6" fill-opacity="0.52"/>
<circle cx="159.51" cy="191.38" r="1.65" fill="#2e2eb6" fill-opacity="0.52"/>
<polyline points="74.36,36.84 76.31,39.49 78.26,42.1 80.21,44.66 82.16,47.18 84.11,49.66 86.06,52.1 88.01,54.5 89.96,56.86 91.91,59.18 93.87,61.46 95.82,63.7 97.77,65.91 99.72,68.08 101.67,70.22 103.62,72.32 105.57,74.38 107.52,76.41 109.47,78.41 111.42,80.37 113.38,82.3 115.33,84.2 117.28,86.07 119.23,87.91 121.18,89.71 123.13,91.49 125.08,93.24 127.03,94.96 128.98,96.65 130.94,98.31 132.89,99.94 134.84,101.55 136.79,103.13 138.74,104.69 140.69,106.22 142.64,107.72 144.59,109.2 146.54,110.66 148.49,112.09 150.45,113.49 152.4,114.88 154.35,116.24 156.3,117.58 158.25,118.89 160.2,120.19 162.15,121.46 164.1,122.71 166.05,123.95 168,125.16 169.96,126.35 171.91,127.52 173.86,128.67 175.81,129.81 177.76,130.92 179.71,132.02 181.66,133.09 183.61,134.15 185.56,135.2 187.52,136.22 189.47,137.23 191.42,138.22 193.37,139.2 195.32,140.16 197.27,141.1 199.22,142.03 201.17,142.94 203.12,143.84 205.07,144.72 207.03,145.59 208.98,146.44 210.93,147.28 212.88,148.1 214.83,148.92 216.78,149.71 218.73,150.5 220.68,151.27 222.63,152.03 224.58,152.78 226.54,153.51 228.49,154.24 230.44,154.95 232.39,155.64 234.34,156.33 236.29,157.01 238.24,157.67 240.19,158.33 242.14,158.97 244.1,159.6 246.05,160.22 248,160.83 249.95,161.44 251.9,162.03 253.85,162.61 255.8,163.18 257.75,163.74 259.7,164.3 261.65,164.84 263.61,165.38 265.56,165.9 267.51,166.42 269.46,166.93 271.41,167.43 273.36,167.92 275.31,168.41 277.26,168.88 279.21,169.35 281.16,169.81 283.12,170.27 285.07,170.71 287.02,171.15 288.97,171.58 290.92,172 292.87,172.42 294.82,172.83 296.77,173.23 298.72,173.63 300.68,174.02 302.63,174.4 304.58,174.78 306.53,175.15 308.48,175.52 310.43,175.88 312.38,176.23 314.33,176.58 316.28,176.92 318.23,177.25 320.19,177.58 322.14,177.91 324.09,178.23 326.04,178.54 327.99,178.85 329.94,179.15 331.89,179.45 333.84,179.75 335.79,180.03 337.74,180.32" fill="none" stroke="#ff0000" stroke-width="2.6"/>
<polyline points="74.36,36.84 75.33,38.61 76.31,40.91 77.28,43.44 78.26,46.1 79.23,48.86 80.21,51.69 81.18,54.56 82.16,57.46 83.13,60.38 84.11,63.3 85.09,66.22 86.06,69.13 87.04,72.02 88.01,74.9 88.99,77.75 89.96,80.57 90.94,83.37 91.91,86.12 92.89,88.85 93.87,91.53 94.84,94.18 95.82,96.79 96.79,99.35 97.77,101.87 98.74,104.35 99.72,106.79 100.69,109.17 101.67,111.52 102.65,113.82 103.62,116.07 104.6,118.28 105.57,120.44 106.55,122.55 107.52,124.62 108.5,126.65 109.47,128.63 110.45,130.57 111.42,132.46 112.4,134.31 113.38,136.11 114.35,137.87 115.33,139.59 116.3,141.27 117.28,142.91 118.25,144.51 119.23,146.06 120.2,147.58 121.18,149.06 122.16,150.5 123.13,151.91 124.11,153.28 125.08,154.61 126.06,155.91 127.03,157.17 128.01,158.4 128.98,159.59 129.96,160.75 130.94,161.88 131.91,162.98 132.89,164.05 133.86,165.09 134.84,166.1 135.81,167.08 136.79,168.04 137.76,168.97 138.74,169.87 139.71,170.74 140.69,171.59 141.67,172.41 142.64,173.21 143.62,173.99 144.59,174.74 145.57,175.47 146.54,176.18 147.52,176.87 148.49,177.54 149.47,178.19 150.45,178.81 151.42,179.42 152.4,180.01 153.37,180.59 154.35,181.14 155.32,181.68 156.3,182.2 157.27,182.7 158.25,183.19 159.23,183.66 160.2,184.12 161.18,184.57 162.15,185 163.13,185.41 164.1,185.82 165.08,186.21 166.05,186.58 167.03,186.95 168,187.3 168.98,187.65 169.96,187.98 170.93,188.3 171.91,188.61" fill="none" stroke="#0000ff" stroke-width="2.6"/>
</g>
<rect x="64.6" y="20.8" width="282.9" height="208.5" fill="none" stroke="#2b2b2b" stroke-width="1.3"/>
<g stroke="#2b2b2b" stroke-width="1.2">
<line x1="74.36" y1="229.3" x2="74.36" y2="225.1"/>
<line x1="74.36" y1="20.8" x2="74.36" y2="25"/>
<line x1="123.13" y1="229.3" x2="123.13" y2="225.1"/>
<line x1="123.13" y1="20.8" x2="123.13" y2="25"/>
<line x1="171.91" y1="229.3" x2="171.91" y2="225.1"/>
<line x1="171.91" y1="20.8" x2="171.91" y2="25"/>
<line x1="220.68" y1="229.3" x2="220.68" y2="225.1"/>
<line x1="220.68" y1="20.8" x2="220.68" y2="25"/>
<line x1="269.46" y1="229.3" x2="269.46" y2="225.1"/>
<line x1="269.46" y1="20.8" x2="269.46" y2="25"/>
<line x1="318.23" y1="229.3" x2="318.23" y2="225.1"/>
<line x1="318.23" y1="20.8" x2="318.23" y2="25"/>
<line x1="98.74" y1="229.3" x2="98.74" y2="226.9"/>
<line x1="98.74" y1="20.8" x2="98.74" y2="23.2"/>
<line x1="147.52" y1="229.3" x2="147.52" y2="226.9"/>
<line x1="147.52" y1="20.8" x2="147.52" y2="23.2"/>
<line x1="196.29" y1="229.3" x2="196.29" y2="226.9"/>
<line x1="196.29" y1="20.8" x2="196.29" y2="23.2"/>
<line x1="245.07" y1="229.3" x2="245.07" y2="226.9"/>
<line x1="245.07" y1="20.8" x2="245.07" y2="23.2"/>
<line x1="293.85" y1="229.3" x2="293.85" y2="226.9"/>
<line x1="293.85" y1="20.8" x2="293.85" y2="23.2"/>
<line x1="342.62" y1="229.3" x2="342.62" y2="226.9"/>
<line x1="342.62" y1="20.8" x2="342.62" y2="23.2"/>
<line x1="64.6" y1="197.22" x2="68.8" y2="197.22"/>
<line x1="347.5" y1="197.22" x2="343.3" y2="197.22"/>
<line x1="64.6" y1="117.03" x2="68.8" y2="117.03"/>
<line x1="347.5" y1="117.03" x2="343.3" y2="117.03"/>
<line x1="64.6" y1="36.84" x2="68.8" y2="36.84"/>
<line x1="347.5" y1="36.84" x2="343.3" y2="36.84"/>
<line x1="64.6" y1="157.13" x2="67" y2="157.13"/>
<line x1="347.5" y1="157.13" x2="345.1" y2="157.13"/>
<line x1="64.6" y1="76.93" x2="67" y2="76.93"/>
<line x1="347.5" y1="76.93" x2="345.1" y2="76.93"/>
</g>
<g font-size="16" fill="#111" text-anchor="middle">
<text x="74.36" y="246.9">0</text>
<text x="123.13" y="246.9">50</text>
<text x="171.91" y="246.9">100</text>
<text x="220.68" y="246.9">150</text>
<text x="269.46" y="246.9">200</text>
<text x="318.23" y="246.9">250</text>
</g>
<g font-size="16" fill="#111" text-anchor="end">
<text x="60" y="202.32">0.0</text>
<text x="60" y="122.13">0.5</text>
<text x="60" y="41.94">1.0</text>
</g>
<text x="200.5" y="268.4" font-size="16.2" text-anchor="middle" fill="#111">τ (μs)</text>
<text transform="translate(32.2,124.25) rotate(-90)" font-size="15.9" text-anchor="middle" fill="#111">Fluorescence (arb. units)</text>
<text transform="translate(-1.0,19.8) scale(0.9,1)" font-size="36" font-weight="bold" fill="#1a1a1a" stroke="#1a1a1a" stroke-width="0.7">a</text>
<line x1="238" y1="42" x2="272" y2="42" stroke="#0000ff" stroke-width="2.6"/>
<line x1="238" y1="59.2" x2="272" y2="59.2" stroke="#ff0000" stroke-width="2.6"/>
<text x="275.5" y="46.5" font-size="14" fill="#111">Original</text>
<text x="275.5" y="63.6" font-size="14" fill="#111">Enhanced</text>
<text x="76" y="216.8" font-size="14" fill="#111">NV 5</text>
<text x="187.5" y="97.6" font-size="14.3" fill="#ff1010">T<tspan font-size="10.5" dy="4">2</tspan><tspan dy="-4">&#160;=&#160; 120.0 ± 2.7 μs</tspan></text>
<text x="177.5" y="213.6" font-size="14.3" fill="#1a1aff">T<tspan font-size="10.5" dy="4">2</tspan><tspan dy="-4" dx="2">&#160;=&#160; 41.2 ± 0.7 μs</tspan></text>
<g clip-path="url(#clipc)">
<circle cx="427.54" cy="127.35" r="2.35" fill="#f04620" fill-opacity="0.68"/>
<circle cx="430.13" cy="122.86" r="2.35" fill="#f04620" fill-opacity="0.68"/>
<circle cx="432.72" cy="118.35" r="2.35" fill="#f04620" fill-opacity="0.68"/>
<circle cx="435.3" cy="122.12" r="2.35" fill="#f04620" fill-opacity="0.68"/>
<circle cx="437.89" cy="112.33" r="2.35" fill="#f04620" fill-opacity="0.68"/>
<circle cx="440.48" cy="120.67" r="2.35" fill="#f04620" fill-opacity="0.68"/>
<circle cx="443.07" cy="128.31" r="2.35" fill="#f04620" fill-opacity="0.68"/>
<circle cx="445.66" cy="114.06" r="2.35" fill="#f04620" fill-opacity="0.68"/>
<circle cx="448.24" cy="121.92" r="2.35" fill="#f04620" fill-opacity="0.68"/>
<circle cx="450.83" cy="103.08" r="2.35" fill="#f04620" fill-opacity="0.68"/>
<circle cx="453.42" cy="125.06" r="2.35" fill="#f04620" fill-opacity="0.68"/>
<circle cx="456.01" cy="122.83" r="2.35" fill="#f04620" fill-opacity="0.68"/>
<circle cx="458.6" cy="119.76" r="2.35" fill="#f04620" fill-opacity="0.68"/>
<circle cx="461.18" cy="126.43" r="2.35" fill="#f04620" fill-opacity="0.68"/>
<circle cx="463.77" cy="116.16" r="2.35" fill="#f04620" fill-opacity="0.68"/>
<circle cx="466.36" cy="111.93" r="2.35" fill="#f04620" fill-opacity="0.68"/>
<circle cx="468.95" cy="110.29" r="2.35" fill="#f04620" fill-opacity="0.68"/>
<circle cx="471.54" cy="117.18" r="2.35" fill="#f04620" fill-opacity="0.68"/>
<circle cx="474.12" cy="120.51" r="2.35" fill="#f04620" fill-opacity="0.68"/>
<circle cx="476.71" cy="112.22" r="2.35" fill="#f04620" fill-opacity="0.68"/>
<circle cx="479.3" cy="112.82" r="2.35" fill="#f04620" fill-opacity="0.68"/>
<circle cx="481.89" cy="121.07" r="2.35" fill="#f04620" fill-opacity="0.68"/>
<circle cx="484.48" cy="122.86" r="2.35" fill="#f04620" fill-opacity="0.68"/>
<circle cx="487.06" cy="124.53" r="2.35" fill="#f04620" fill-opacity="0.68"/>
<circle cx="489.65" cy="118.83" r="2.35" fill="#f04620" fill-opacity="0.68"/>
<circle cx="492.24" cy="120.3" r="2.35" fill="#f04620" fill-opacity="0.68"/>
<circle cx="494.83" cy="115.68" r="2.35" fill="#f04620" fill-opacity="0.68"/>
<circle cx="497.42" cy="113.99" r="2.35" fill="#f04620" fill-opacity="0.68"/>
<circle cx="500" cy="126.52" r="2.35" fill="#f04620" fill-opacity="0.68"/>
<circle cx="502.59" cy="117.51" r="2.35" fill="#f04620" fill-opacity="0.68"/>
<circle cx="505.18" cy="117.93" r="2.35" fill="#f04620" fill-opacity="0.68"/>
<circle cx="507.77" cy="122.16" r="2.35" fill="#f04620" fill-opacity="0.68"/>
<circle cx="510.36" cy="119.14" r="2.35" fill="#f04620" fill-opacity="0.68"/>
<circle cx="512.94" cy="112.15" r="2.35" fill="#f04620" fill-opacity="0.68"/>
<circle cx="515.53" cy="119.91" r="2.35" fill="#f04620" fill-opacity="0.68"/>
<circle cx="518.12" cy="120.26" r="2.35" fill="#f04620" fill-opacity="0.68"/>
<circle cx="520.71" cy="121.97" r="2.35" fill="#f04620" fill-opacity="0.68"/>
<circle cx="523.3" cy="118.19" r="2.35" fill="#f04620" fill-opacity="0.68"/>
<circle cx="525.88" cy="122.84" r="2.35" fill="#f04620" fill-opacity="0.68"/>
<circle cx="528.47" cy="117.16" r="2.35" fill="#f04620" fill-opacity="0.68"/>
<circle cx="531.06" cy="126.87" r="2.35" fill="#f04620" fill-opacity="0.68"/>
<circle cx="533.65" cy="124.12" r="2.35" fill="#f04620" fill-opacity="0.68"/>
<circle cx="536.24" cy="118.07" r="2.35" fill="#f04620" fill-opacity="0.68"/>
<circle cx="538.82" cy="112.71" r="2.35" fill="#f04620" fill-opacity="0.68"/>
<circle cx="541.41" cy="123.34" r="2.35" fill="#f04620" fill-opacity="0.68"/>
<circle cx="544" cy="119.84" r="2.35" fill="#f04620" fill-opacity="0.68"/>
<circle cx="546.59" cy="116.41" r="2.35" fill="#f04620" fill-opacity="0.68"/>
<circle cx="549.18" cy="121.97" r="2.35" fill="#f04620" fill-opacity="0.68"/>
<circle cx="551.76" cy="118.81" r="2.35" fill="#f04620" fill-opacity="0.68"/>
<circle cx="554.35" cy="118.27" r="2.35" fill="#f04620" fill-opacity="0.68"/>
<circle cx="556.94" cy="127.75" r="2.35" fill="#f04620" fill-opacity="0.68"/>
<circle cx="559.53" cy="129.09" r="2.35" fill="#f04620" fill-opacity="0.68"/>
<circle cx="562.12" cy="119.17" r="2.35" fill="#f04620" fill-opacity="0.68"/>
<circle cx="564.7" cy="125.96" r="2.35" fill="#f04620" fill-opacity="0.68"/>
<circle cx="567.29" cy="120.4" r="2.35" fill="#f04620" fill-opacity="0.68"/>
<circle cx="569.88" cy="119.46" r="2.35" fill="#f04620" fill-opacity="0.68"/>
<circle cx="572.47" cy="124.79" r="2.35" fill="#f04620" fill-opacity="0.68"/>
<circle cx="575.06" cy="126.08" r="2.35" fill="#f04620" fill-opacity="0.68"/>
<circle cx="577.64" cy="125.14" r="2.35" fill="#f04620" fill-opacity="0.68"/>
<circle cx="580.23" cy="113.72" r="2.35" fill="#f04620" fill-opacity="0.68"/>
<circle cx="582.82" cy="132.85" r="2.35" fill="#f04620" fill-opacity="0.68"/>
<circle cx="585.41" cy="115.7" r="2.35" fill="#f04620" fill-opacity="0.68"/>
<circle cx="588" cy="120.76" r="2.35" fill="#f04620" fill-opacity="0.68"/>
<circle cx="590.58" cy="124.59" r="2.35" fill="#f04620" fill-opacity="0.68"/>
<circle cx="593.17" cy="118.92" r="2.35" fill="#f04620" fill-opacity="0.68"/>
<circle cx="595.76" cy="121.29" r="2.35" fill="#f04620" fill-opacity="0.68"/>
<circle cx="598.35" cy="126" r="2.35" fill="#f04620" fill-opacity="0.68"/>
<circle cx="600.94" cy="121.46" r="2.35" fill="#f04620" fill-opacity="0.68"/>
<circle cx="603.52" cy="120.17" r="2.35" fill="#f04620" fill-opacity="0.68"/>
<circle cx="606.11" cy="118.36" r="2.35" fill="#f04620" fill-opacity="0.68"/>
<circle cx="608.7" cy="120.16" r="2.35" fill="#f04620" fill-opacity="0.68"/>
<circle cx="611.29" cy="121.2" r="2.35" fill="#f04620" fill-opacity="0.68"/>
<circle cx="613.88" cy="133.13" r="2.35" fill="#f04620" fill-opacity="0.68"/>
<circle cx="616.46" cy="124.57" r="2.35" fill="#f04620" fill-opacity="0.68"/>
<circle cx="619.05" cy="117.95" r="2.35" fill="#f04620" fill-opacity="0.68"/>
<circle cx="621.64" cy="117.37" r="2.35" fill="#f04620" fill-opacity="0.68"/>
<circle cx="624.23" cy="125.57" r="2.35" fill="#f04620" fill-opacity="0.68"/>
<circle cx="626.82" cy="124.56" r="2.35" fill="#f04620" fill-opacity="0.68"/>
<circle cx="629.4" cy="126.87" r="2.35" fill="#f04620" fill-opacity="0.68"/>
<circle cx="631.99" cy="128.4" r="2.35" fill="#f04620" fill-opacity="0.68"/>
<circle cx="634.58" cy="118.09" r="2.35" fill="#f04620" fill-opacity="0.68"/>
<circle cx="637.17" cy="115.97" r="2.35" fill="#f04620" fill-opacity="0.68"/>
<circle cx="639.76" cy="120.88" r="2.35" fill="#f04620" fill-opacity="0.68"/>
<circle cx="642.34" cy="118.62" r="2.35" fill="#f04620" fill-opacity="0.68"/>
<circle cx="644.93" cy="112.7" r="2.35" fill="#f04620" fill-opacity="0.68"/>
<circle cx="647.52" cy="126.68" r="2.35" fill="#f04620" fill-opacity="0.68"/>
<circle cx="650.11" cy="120.46" r="2.35" fill="#f04620" fill-opacity="0.68"/>
<circle cx="652.7" cy="120.95" r="2.35" fill="#f04620" fill-opacity="0.68"/>
<circle cx="655.28" cy="115.07" r="2.35" fill="#f04620" fill-opacity="0.68"/>
<circle cx="657.87" cy="128.1" r="2.35" fill="#f04620" fill-opacity="0.68"/>
<circle cx="660.46" cy="129.44" r="2.35" fill="#f04620" fill-opacity="0.68"/>
<circle cx="427.54" cy="166.73" r="2.9" fill="#5050c0" fill-opacity="0.38"/>
<circle cx="430.13" cy="172.69" r="2.9" fill="#5050c0" fill-opacity="0.38"/>
<circle cx="432.72" cy="167.68" r="2.9" fill="#5050c0" fill-opacity="0.38"/>
<circle cx="435.3" cy="165.68" r="2.9" fill="#5050c0" fill-opacity="0.38"/>
<circle cx="437.89" cy="166.48" r="2.9" fill="#5050c0" fill-opacity="0.38"/>
<circle cx="440.48" cy="164.11" r="2.9" fill="#5050c0" fill-opacity="0.38"/>
<circle cx="443.07" cy="167.94" r="2.9" fill="#5050c0" fill-opacity="0.38"/>
<circle cx="445.66" cy="169.29" r="2.9" fill="#5050c0" fill-opacity="0.38"/>
<circle cx="448.24" cy="178.12" r="2.9" fill="#5050c0" fill-opacity="0.38"/>
<circle cx="450.83" cy="164.43" r="2.9" fill="#5050c0" fill-opacity="0.38"/>
<circle cx="453.42" cy="176.99" r="2.9" fill="#5050c0" fill-opacity="0.38"/>
<circle cx="456.01" cy="170.44" r="2.9" fill="#5050c0" fill-opacity="0.38"/>
<circle cx="458.6" cy="162.68" r="2.9" fill="#5050c0" fill-opacity="0.38"/>
<circle cx="461.18" cy="179.22" r="2.9" fill="#5050c0" fill-opacity="0.38"/>
<circle cx="463.77" cy="166.26" r="2.9" fill="#5050c0" fill-opacity="0.38"/>
<circle cx="466.36" cy="174.76" r="2.9" fill="#5050c0" fill-opacity="0.38"/>
<circle cx="468.95" cy="171.2" r="2.9" fill="#5050c0" fill-opacity="0.38"/>
<circle cx="471.54" cy="180" r="2.9" fill="#5050c0" fill-opacity="0.38"/>
<circle cx="474.12" cy="182.46" r="2.9" fill="#5050c0" fill-opacity="0.38"/>
<circle cx="476.71" cy="168.87" r="2.9" fill="#5050c0" fill-opacity="0.38"/>
<circle cx="479.3" cy="160.13" r="2.9" fill="#5050c0" fill-opacity="0.38"/>
<circle cx="481.89" cy="167.51" r="2.9" fill="#5050c0" fill-opacity="0.38"/>
<circle cx="484.48" cy="171.85" r="2.9" fill="#5050c0" fill-opacity="0.38"/>
<circle cx="487.06" cy="171.87" r="2.9" fill="#5050c0" fill-opacity="0.38"/>
<circle cx="489.65" cy="163.82" r="2.9" fill="#5050c0" fill-opacity="0.38"/>
<circle cx="492.24" cy="164.85" r="2.9" fill="#5050c0" fill-opacity="0.38"/>
<circle cx="494.83" cy="177.49" r="2.9" fill="#5050c0" fill-opacity="0.38"/>
<circle cx="497.42" cy="180.41" r="2.9" fill="#5050c0" fill-opacity="0.38"/>
<circle cx="500" cy="165.41" r="2.9" fill="#5050c0" fill-opacity="0.38"/>
<circle cx="502.59" cy="178.66" r="2.9" fill="#5050c0" fill-opacity="0.38"/>
<circle cx="505.18" cy="174.03" r="2.9" fill="#5050c0" fill-opacity="0.38"/>
<circle cx="507.77" cy="172.24" r="2.9" fill="#5050c0" fill-opacity="0.38"/>
<circle cx="510.36" cy="184.74" r="2.9" fill="#5050c0" fill-opacity="0.38"/>
<circle cx="512.94" cy="184.94" r="2.9" fill="#5050c0" fill-opacity="0.38"/>
<circle cx="515.53" cy="191.76" r="2.9" fill="#5050c0" fill-opacity="0.38"/>
<circle cx="518.12" cy="179.78" r="2.9" fill="#5050c0" fill-opacity="0.38"/>
<circle cx="520.71" cy="189.52" r="2.9" fill="#5050c0" fill-opacity="0.38"/>
<circle cx="523.3" cy="186.91" r="2.9" fill="#5050c0" fill-opacity="0.38"/>
<circle cx="525.88" cy="202.29" r="2.9" fill="#5050c0" fill-opacity="0.38"/>
<circle cx="528.47" cy="194.61" r="2.9" fill="#5050c0" fill-opacity="0.38"/>
<circle cx="531.06" cy="206.83" r="2.9" fill="#5050c0" fill-opacity="0.38"/>
<circle cx="533.65" cy="206.77" r="2.9" fill="#5050c0" fill-opacity="0.38"/>
<circle cx="536.24" cy="215.86" r="2.9" fill="#5050c0" fill-opacity="0.38"/>
<circle cx="538.82" cy="211.99" r="2.9" fill="#5050c0" fill-opacity="0.38"/>
<circle cx="541.41" cy="207.65" r="2.9" fill="#5050c0" fill-opacity="0.38"/>
<circle cx="544" cy="212.24" r="2.9" fill="#5050c0" fill-opacity="0.38"/>
<circle cx="546.59" cy="210.17" r="2.9" fill="#5050c0" fill-opacity="0.38"/>
<circle cx="549.18" cy="202.91" r="2.9" fill="#5050c0" fill-opacity="0.38"/>
<circle cx="551.76" cy="203.77" r="2.9" fill="#5050c0" fill-opacity="0.38"/>
<circle cx="554.35" cy="195.76" r="2.9" fill="#5050c0" fill-opacity="0.38"/>
<circle cx="556.94" cy="194.42" r="2.9" fill="#5050c0" fill-opacity="0.38"/>
<circle cx="559.53" cy="186.89" r="2.9" fill="#5050c0" fill-opacity="0.38"/>
<circle cx="562.12" cy="190.93" r="2.9" fill="#5050c0" fill-opacity="0.38"/>
<circle cx="564.7" cy="185.25" r="2.9" fill="#5050c0" fill-opacity="0.38"/>
<circle cx="567.29" cy="182.83" r="2.9" fill="#5050c0" fill-opacity="0.38"/>
<circle cx="569.88" cy="173.57" r="2.9" fill="#5050c0" fill-opacity="0.38"/>
<circle cx="572.47" cy="178.09" r="2.9" fill="#5050c0" fill-opacity="0.38"/>
<circle cx="575.06" cy="184.78" r="2.9" fill="#5050c0" fill-opacity="0.38"/>
<circle cx="577.64" cy="184.26" r="2.9" fill="#5050c0" fill-opacity="0.38"/>
<circle cx="580.23" cy="176.85" r="2.9" fill="#5050c0" fill-opacity="0.38"/>
<circle cx="582.82" cy="177.85" r="2.9" fill="#5050c0" fill-opacity="0.38"/>
<circle cx="585.41" cy="179.52" r="2.9" fill="#5050c0" fill-opacity="0.38"/>
<circle cx="588" cy="177.19" r="2.9" fill="#5050c0" fill-opacity="0.38"/>
<circle cx="590.58" cy="169.36" r="2.9" fill="#5050c0" fill-opacity="0.38"/>
<circle cx="593.17" cy="182.73" r="2.9" fill="#5050c0" fill-opacity="0.38"/>
<circle cx="595.76" cy="171.06" r="2.9" fill="#5050c0" fill-opacity="0.38"/>
<circle cx="598.35" cy="173.6" r="2.9" fill="#5050c0" fill-opacity="0.38"/>
<circle cx="600.94" cy="163.42" r="2.9" fill="#5050c0" fill-opacity="0.38"/>
<circle cx="603.52" cy="180.86" r="2.9" fill="#5050c0" fill-opacity="0.38"/>
<circle cx="606.11" cy="168.74" r="2.9" fill="#5050c0" fill-opacity="0.38"/>
<circle cx="608.7" cy="171.93" r="2.9" fill="#5050c0" fill-opacity="0.38"/>
<circle cx="611.29" cy="170.01" r="2.9" fill="#5050c0" fill-opacity="0.38"/>
<circle cx="613.88" cy="167.89" r="2.9" fill="#5050c0" fill-opacity="0.38"/>
<circle cx="616.46" cy="159.6" r="2.9" fill="#5050c0" fill-opacity="0.38"/>
<circle cx="619.05" cy="167.81" r="2.9" fill="#5050c0" fill-opacity="0.38"/>
<circle cx="621.64" cy="166.95" r="2.9" fill="#5050c0" fill-opacity="0.38"/>
<circle cx="624.23" cy="177.3" r="2.9" fill="#5050c0" fill-opacity="0.38"/>
<circle cx="626.82" cy="166.08" r="2.9" fill="#5050c0" fill-opacity="0.38"/>
<circle cx="629.4" cy="176.74" r="2.9" fill="#5050c0" fill-opacity="0.38"/>
<circle cx="631.99" cy="170.08" r="2.9" fill="#5050c0" fill-opacity="0.38"/>
<circle cx="634.58" cy="166.84" r="2.9" fill="#5050c0" fill-opacity="0.38"/>
<circle cx="637.17" cy="161.47" r="2.9" fill="#5050c0" fill-opacity="0.38"/>
<circle cx="639.76" cy="163.67" r="2.9" fill="#5050c0" fill-opacity="0.38"/>
<circle cx="642.34" cy="167.71" r="2.9" fill="#5050c0" fill-opacity="0.38"/>
<circle cx="644.93" cy="164.24" r="2.9" fill="#5050c0" fill-opacity="0.38"/>
<circle cx="647.52" cy="169.98" r="2.9" fill="#5050c0" fill-opacity="0.38"/>
<circle cx="650.11" cy="168.33" r="2.9" fill="#5050c0" fill-opacity="0.38"/>
<circle cx="652.7" cy="169" r="2.9" fill="#5050c0" fill-opacity="0.38"/>
<circle cx="655.28" cy="164.13" r="2.9" fill="#5050c0" fill-opacity="0.38"/>
<circle cx="657.87" cy="169.85" r="2.9" fill="#5050c0" fill-opacity="0.38"/>
<circle cx="660.46" cy="173.95" r="2.9" fill="#5050c0" fill-opacity="0.38"/>
<polyline points="427.54,168.75 428.19,168.76 428.83,168.78 429.48,168.79 430.13,168.81 430.78,168.82 431.42,168.84 432.07,168.86 432.72,168.87 433.36,168.89 434.01,168.91 434.66,168.92 435.3,168.94 435.95,168.96 436.6,168.98 437.25,169 437.89,169.01 438.54,169.03 439.19,169.05 439.83,169.07 440.48,169.09 441.13,169.11 441.77,169.14 442.42,169.16 443.07,169.18 443.72,169.2 444.36,169.22 445.01,169.25 445.66,169.27 446.3,169.3 446.95,169.32 447.6,169.35 448.24,169.37 448.89,169.4 449.54,169.42 450.19,169.45 450.83,169.48 451.48,169.51 452.13,169.54 452.77,169.56 453.42,169.59 454.07,169.63 454.71,169.66 455.36,169.69 456.01,169.72 456.66,169.75 457.3,169.79 457.95,169.82 458.6,169.86 459.24,169.89 459.89,169.93 460.54,169.97 461.18,170.01 461.83,170.05 462.48,170.09 463.12,170.13 463.77,170.17 464.42,170.22 465.07,170.26 465.71,170.31 466.36,170.35 467.01,170.4 467.65,170.45 468.3,170.5 468.95,170.55 469.6,170.6 470.24,170.66 470.89,170.71 471.54,170.77 472.18,170.83 472.83,170.88 473.48,170.95 474.12,171.01 474.77,171.07 475.42,171.14 476.06,171.21 476.71,171.27 477.36,171.35 478.01,171.42 478.65,171.49 479.3,171.57 479.95,171.65 480.59,171.73 481.24,171.82 481.89,171.9 482.54,171.99 483.18,172.08 483.83,172.18 484.48,172.27 485.12,172.37 485.77,172.47 486.42,172.58 487.06,172.69 487.71,172.8 488.36,172.92 489,173.03 489.65,173.16 490.3,173.28 490.95,173.41 491.59,173.55 492.24,173.69 492.89,173.83 493.53,173.98 494.18,174.13 494.83,174.29 495.48,174.45 496.12,174.62 496.77,174.8 497.42,174.98 498.06,175.17 498.71,175.36 499.36,175.56 500,175.77 500.65,175.98 501.3,176.2 501.94,176.44 502.59,176.67 503.24,176.92 503.89,177.18 504.53,177.45 505.18,177.72 505.83,178.01 506.47,178.31 507.12,178.61 507.77,178.94 508.42,179.27 509.06,179.61 509.71,179.97 510.36,180.35 511,180.73 511.65,181.13 512.3,181.55 512.94,181.99 513.59,182.44 514.24,182.91 514.88,183.39 515.53,183.9 516.18,184.42 516.83,184.96 517.47,185.53 518.12,186.11 518.77,186.72 519.41,187.35 520.06,188 520.71,188.68 521.36,189.37 522,190.09 522.65,190.83 523.3,191.6 523.94,192.38 524.59,193.19 525.24,194.02 525.88,194.87 526.53,195.73 527.18,196.62 527.83,197.51 528.47,198.42 529.12,199.33 529.77,200.25 530.41,201.17 531.06,202.08 531.71,202.99 532.35,203.88 533,204.75 533.65,205.6 534.29,206.41 534.94,207.18 535.59,207.91 536.24,208.58 536.88,209.19 537.53,209.73 538.18,210.2 538.82,210.6 539.47,210.91 540.12,211.13 540.76,211.27 541.41,211.32 542.06,211.27 542.71,211.13 543.35,210.91 544,210.6 544.65,210.2 545.29,209.73 545.94,209.19 546.59,208.58 547.24,207.91 547.88,207.18 548.53,206.41 549.18,205.6 549.82,204.75 550.47,203.88 551.12,202.99 551.76,202.08 552.41,201.17 553.06,200.25 553.71,199.33 554.35,198.42 555,197.51 555.65,196.62 556.29,195.73 556.94,194.87 557.59,194.02 558.23,193.19 558.88,192.38 559.53,191.6 560.17,190.83 560.82,190.09 561.47,189.37 562.12,188.68 562.76,188 563.41,187.35 564.06,186.72 564.7,186.11 565.35,185.53 566,184.96 566.64,184.42 567.29,183.9 567.94,183.39 568.59,182.91 569.23,182.44 569.88,181.99 570.53,181.55 571.17,181.13 571.82,180.73 572.47,180.35 573.12,179.97 573.76,179.61 574.41,179.27 575.06,178.94 575.7,178.61 576.35,178.31 577,178.01 577.64,177.72 578.29,177.45 578.94,177.18 579.59,176.92 580.23,176.67 580.88,176.44 581.53,176.2 582.17,175.98 582.82,175.77 583.47,175.56 584.11,175.36 584.76,175.17 585.41,174.98 586.05,174.8 586.7,174.62 587.35,174.45 588,174.29 588.64,174.13 589.29,173.98 589.94,173.83 590.58,173.69 591.23,173.55 591.88,173.41 592.52,173.28 593.17,173.16 593.82,173.03 594.47,172.92 595.11,172.8 595.76,172.69 596.41,172.58 597.05,172.47 597.7,172.37 598.35,172.27 599,172.18 599.64,172.08 600.29,171.99 600.94,171.9 601.58,171.82 602.23,171.73 602.88,171.65 603.52,171.57 604.17,171.49 604.82,171.42 605.46,171.35 606.11,171.27 606.76,171.21 607.41,171.14 608.05,171.07 608.7,171.01 609.35,170.95 609.99,170.88 610.64,170.83 611.29,170.77 611.93,170.71 612.58,170.66 613.23,170.6 613.88,170.55 614.52,170.5 615.17,170.45 615.82,170.4 616.46,170.35 617.11,170.31 617.76,170.26 618.4,170.22 619.05,170.17 619.7,170.13 620.35,170.09 620.99,170.05 621.64,170.01 622.29,169.97 622.93,169.93 623.58,169.89 624.23,169.86 624.88,169.82 625.52,169.79 626.17,169.75 626.82,169.72 627.46,169.69 628.11,169.66 628.76,169.63 629.4,169.59 630.05,169.56 630.7,169.54 631.35,169.51 631.99,169.48 632.64,169.45 633.29,169.42 633.93,169.4 634.58,169.37 635.23,169.35 635.87,169.32 636.52,169.3 637.17,169.27 637.82,169.25 638.46,169.22 639.11,169.2 639.76,169.18 640.4,169.16 641.05,169.14 641.7,169.11 642.34,169.09 642.99,169.07 643.64,169.05 644.28,169.03 644.93,169.01 645.58,169 646.23,168.98 646.87,168.96 647.52,168.94 648.17,168.92 648.81,168.91 649.46,168.89 650.11,168.87 650.75,168.86 651.4,168.84 652.05,168.82 652.7,168.81 653.34,168.79 653.99,168.78 654.64,168.76 655.28,168.75 655.93,168.73 656.58,168.72 657.23,168.7 657.87,168.69 658.52,168.68 659.17,168.66 659.81,168.65 660.46,168.64" fill="none" stroke="#0000ee" stroke-width="2.8"/>
</g>
<rect x="414.6" y="21" width="258.8" height="208.1" fill="none" stroke="#2b2b2b" stroke-width="1.3"/>
<g stroke="#2b2b2b" stroke-width="1.2">
<line x1="479.3" y1="229.1" x2="479.3" y2="224.9"/>
<line x1="479.3" y1="21" x2="479.3" y2="25.2"/>
<line x1="544" y1="229.1" x2="544" y2="224.9"/>
<line x1="544" y1="21" x2="544" y2="25.2"/>
<line x1="608.7" y1="229.1" x2="608.7" y2="224.9"/>
<line x1="608.7" y1="21" x2="608.7" y2="25.2"/>
<line x1="446.95" y1="229.1" x2="446.95" y2="226.7"/>
<line x1="446.95" y1="21" x2="446.95" y2="23.4"/>
<line x1="511.65" y1="229.1" x2="511.65" y2="226.7"/>
<line x1="511.65" y1="21" x2="511.65" y2="23.4"/>
<line x1="576.35" y1="229.1" x2="576.35" y2="226.7"/>
<line x1="576.35" y1="21" x2="576.35" y2="23.4"/>
<line x1="641.05" y1="229.1" x2="641.05" y2="226.7"/>
<line x1="641.05" y1="21" x2="641.05" y2="23.4"/>
<line x1="414.6" y1="210.18" x2="418.8" y2="210.18"/>
<line x1="673.4" y1="210.18" x2="669.2" y2="210.18"/>
<line x1="414.6" y1="162.89" x2="418.8" y2="162.89"/>
<line x1="673.4" y1="162.89" x2="669.2" y2="162.89"/>
<line x1="414.6" y1="115.59" x2="418.8" y2="115.59"/>
<line x1="673.4" y1="115.59" x2="669.2" y2="115.59"/>
<line x1="414.6" y1="68.3" x2="418.8" y2="68.3"/>
<line x1="673.4" y1="68.3" x2="669.2" y2="68.3"/>
<line x1="414.6" y1="186.53" x2="417" y2="186.53"/>
<line x1="673.4" y1="186.53" x2="671" y2="186.53"/>
<line x1="414.6" y1="139.24" x2="417" y2="139.24"/>
<line x1="673.4" y1="139.24" x2="671" y2="139.24"/>
<line x1="414.6" y1="91.94" x2="417" y2="91.94"/>
<line x1="673.4" y1="91.94" x2="671" y2="91.94"/>
<line x1="414.6" y1="44.65" x2="417" y2="44.65"/>
<line x1="673.4" y1="44.65" x2="671" y2="44.65"/>
</g>
<g font-size="16" fill="#111" text-anchor="middle">
<text x="414.6" y="245.7">700</text>
<text x="479.3" y="245.7">750</text>
<text x="544" y="245.7">800</text>
<text x="608.7" y="245.7">850</text>
<text x="673.4" y="245.7">900</text>
</g>
<g font-size="16" fill="#111" text-anchor="end">
<text x="410" y="215.18">0.5</text>
<text x="410" y="167.89">1.0</text>
<text x="410" y="120.59">1.5</text>
<text x="410" y="73.3">2.0</text>
<text x="410" y="26">2.5</text>
</g>
<text x="544.3" y="264.6" font-size="15.2" text-anchor="middle" fill="#111">Frequency (MHz)</text>
<text transform="translate(385.2,123.55) rotate(-90)" font-size="15.45" text-anchor="middle" fill="#111">Fluorescence (arb. units)</text>
<path clip-path="url(#clipcl)" fill-rule="evenodd" fill="#1a1a1a" d="M359.6,9.65A9.9,9.65 0 1 1 379.4,9.65A9.9,9.65 0 1 1 359.6,9.65ZM365.7,9.65A6.1,5.2 0 1 0 377.9,9.65A6.1,5.2 0 1 0 365.7,9.65Z"/>
<circle cx="448" cy="44.9" r="2.7" fill="#f04620" fill-opacity="0.62"/>
<circle cx="448" cy="62.1" r="3.0" fill="#5050c0" fill-opacity="0.33"/>
<line x1="432" y1="80.1" x2="464" y2="80.1" stroke="#0000ee" stroke-width="2.6"/>
<text x="467.5" y="49.8" font-size="14" fill="#111">Enhanced</text>
<text x="467.5" y="66.8" font-size="14" fill="#111">Original</text>
<text x="471.5" y="85.4" font-size="13.7" fill="#111">ω = 798.3 ± 0.7 MHz , C = 0.47</text>
<text x="429.5" y="218.8" font-size="14" fill="#111">NV 5</text>
<rect x="83.88" y="442.32" width="10" height="5.88" fill="#0000ff"/>
<rect x="93.88" y="439.77" width="10" height="8.43" fill="#f04444"/>
<rect x="113.26" y="440.02" width="10" height="8.18" fill="#0000ff"/>
<rect x="123.26" y="433.38" width="10" height="14.82" fill="#f04444"/>
<rect x="142.64" y="439.77" width="10" height="8.43" fill="#0000ff"/>
<rect x="152.64" y="437.47" width="10" height="10.73" fill="#f04444"/>
<rect x="172.02" y="439.51" width="10" height="8.69" fill="#0000ff"/>
<rect x="182.02" y="431.59" width="10" height="16.61" fill="#f04444"/>
<rect x="201.4" y="437.98" width="10" height="10.22" fill="#0000ff"/>
<rect x="211.4" y="417.8" width="10" height="30.4" fill="#f04444"/>
<rect x="230.79" y="435.94" width="10" height="12.26" fill="#0000ff"/>
<rect x="240.79" y="433.64" width="10" height="14.56" fill="#f04444"/>
<rect x="260.17" y="435.17" width="10" height="13.03" fill="#0000ff"/>
<rect x="270.17" y="413.71" width="10" height="34.49" fill="#f04444"/>
<rect x="289.55" y="434.15" width="10" height="14.05" fill="#0000ff"/>
<rect x="299.55" y="402.21" width="10" height="45.99" fill="#f04444"/>
<rect x="318.93" y="433.89" width="10" height="14.31" fill="#0000ff"/>
<rect x="328.93" y="406.3" width="10" height="41.9" fill="#f04444"/>
<rect x="348.31" y="429.8" width="10" height="18.4" fill="#0000ff"/>
<rect x="358.31" y="405.79" width="10" height="42.41" fill="#f04444"/>
<rect x="377.69" y="429.04" width="10" height="19.16" fill="#0000ff"/>
<rect x="387.69" y="402.47" width="10" height="45.73" fill="#f04444"/>
<rect x="407.07" y="421.37" width="10" height="26.83" fill="#0000ff"/>
<rect x="417.07" y="381.77" width="10" height="66.43" fill="#f04444"/>
<rect x="436.45" y="418.82" width="10" height="29.38" fill="#0000ff"/>
<rect x="446.45" y="400.93" width="10" height="47.27" fill="#f04444"/>
<rect x="465.83" y="418.05" width="10" height="30.15" fill="#0000ff"/>
<rect x="475.83" y="383.05" width="10" height="65.15" fill="#f04444"/>
<rect x="495.21" y="416.52" width="10" height="31.68" fill="#0000ff"/>
<rect x="505.21" y="374.11" width="10" height="74.09" fill="#f04444"/>
<rect x="524.6" y="415.75" width="10" height="32.45" fill="#0000ff"/>
<rect x="534.6" y="356.22" width="10" height="91.98" fill="#f04444"/>
<rect x="553.98" y="409.88" width="10" height="38.32" fill="#0000ff"/>
<rect x="563.98" y="369.25" width="10" height="78.95" fill="#f04444"/>
<rect x="583.36" y="400.93" width="10" height="47.27" fill="#0000ff"/>
<rect x="593.36" y="355.96" width="10" height="92.24" fill="#f04444"/>
<rect x="612.74" y="398.63" width="10" height="49.57" fill="#0000ff"/>
<rect x="622.74" y="369" width="10" height="79.2" fill="#f04444"/>
<rect x="642.12" y="394.29" width="10" height="53.91" fill="#0000ff"/>
<rect x="652.12" y="314.83" width="10" height="133.37" fill="#f04444"/>
<g stroke="#1a1a1a" stroke-width="1.1">
<line x1="88.88" y1="441.81" x2="88.88" y2="442.83"/>
<line x1="86.38" y1="441.81" x2="91.38" y2="441.81"/>
<line x1="86.38" y1="442.83" x2="91.38" y2="442.83"/>
<line x1="98.88" y1="438.49" x2="98.88" y2="441.05"/>
<line x1="96.38" y1="438.49" x2="101.38" y2="438.49"/>
<line x1="96.38" y1="441.05" x2="101.38" y2="441.05"/>
<line x1="118.26" y1="439.51" x2="118.26" y2="440.53"/>
<line x1="115.76" y1="439.51" x2="120.76" y2="439.51"/>
<line x1="115.76" y1="440.53" x2="120.76" y2="440.53"/>
<line x1="128.26" y1="432.61" x2="128.26" y2="434.15"/>
<line x1="125.76" y1="432.61" x2="130.76" y2="432.61"/>
<line x1="125.76" y1="434.15" x2="130.76" y2="434.15"/>
<line x1="147.64" y1="439.26" x2="147.64" y2="440.28"/>
<line x1="145.14" y1="439.26" x2="150.14" y2="439.26"/>
<line x1="145.14" y1="440.28" x2="150.14" y2="440.28"/>
<line x1="157.64" y1="436.45" x2="157.64" y2="438.49"/>
<line x1="155.14" y1="436.45" x2="160.14" y2="436.45"/>
<line x1="155.14" y1="438.49" x2="160.14" y2="438.49"/>
<line x1="177.02" y1="439" x2="177.02" y2="440.02"/>
<line x1="174.52" y1="439" x2="179.52" y2="439"/>
<line x1="174.52" y1="440.02" x2="179.52" y2="440.02"/>
<line x1="187.02" y1="430.06" x2="187.02" y2="433.13"/>
<line x1="184.52" y1="430.06" x2="189.52" y2="430.06"/>
<line x1="184.52" y1="433.13" x2="189.52" y2="433.13"/>
<line x1="206.4" y1="437.47" x2="206.4" y2="438.49"/>
<line x1="203.9" y1="437.47" x2="208.9" y2="437.47"/>
<line x1="203.9" y1="438.49" x2="208.9" y2="438.49"/>
<line x1="216.4" y1="417.03" x2="216.4" y2="418.56"/>
<line x1="213.9" y1="417.03" x2="218.9" y2="417.03"/>
<line x1="213.9" y1="418.56" x2="218.9" y2="418.56"/>
<line x1="235.79" y1="435.17" x2="235.79" y2="436.7"/>
<line x1="233.29" y1="435.17" x2="238.29" y2="435.17"/>
<line x1="233.29" y1="436.7" x2="238.29" y2="436.7"/>
<line x1="245.79" y1="432.1" x2="245.79" y2="435.17"/>
<line x1="243.29" y1="432.1" x2="248.29" y2="432.1"/>
<line x1="243.29" y1="435.17" x2="248.29" y2="435.17"/>
<line x1="265.17" y1="434.66" x2="265.17" y2="435.68"/>
<line x1="262.67" y1="434.66" x2="267.67" y2="434.66"/>
<line x1="262.67" y1="435.68" x2="267.67" y2="435.68"/>
<line x1="275.17" y1="412.17" x2="275.17" y2="415.24"/>
<line x1="272.67" y1="412.17" x2="277.67" y2="412.17"/>
<line x1="272.67" y1="415.24" x2="277.67" y2="415.24"/>
<line x1="294.55" y1="433.64" x2="294.55" y2="434.66"/>
<line x1="292.05" y1="433.64" x2="297.05" y2="433.64"/>
<line x1="292.05" y1="434.66" x2="297.05" y2="434.66"/>
<line x1="304.55" y1="399.65" x2="304.55" y2="404.76"/>
<line x1="302.05" y1="399.65" x2="307.05" y2="399.65"/>
<line x1="302.05" y1="404.76" x2="307.05" y2="404.76"/>
<line x1="323.93" y1="433.38" x2="323.93" y2="434.4"/>
<line x1="321.43" y1="433.38" x2="326.43" y2="433.38"/>
<line x1="321.43" y1="434.4" x2="326.43" y2="434.4"/>
<line x1="333.93" y1="401.95" x2="333.93" y2="410.64"/>
<line x1="331.43" y1="401.95" x2="336.43" y2="401.95"/>
<line x1="331.43" y1="410.64" x2="336.43" y2="410.64"/>
<line x1="353.31" y1="429.29" x2="353.31" y2="430.31"/>
<line x1="350.81" y1="429.29" x2="355.81" y2="429.29"/>
<line x1="350.81" y1="430.31" x2="355.81" y2="430.31"/>
<line x1="363.31" y1="402.72" x2="363.31" y2="408.85"/>
<line x1="360.81" y1="402.72" x2="365.81" y2="402.72"/>
<line x1="360.81" y1="408.85" x2="365.81" y2="408.85"/>
<line x1="382.69" y1="428.02" x2="382.69" y2="430.06"/>
<line x1="380.19" y1="428.02" x2="385.19" y2="428.02"/>
<line x1="380.19" y1="430.06" x2="385.19" y2="430.06"/>
<line x1="392.69" y1="400.42" x2="392.69" y2="404.51"/>
<line x1="390.19" y1="400.42" x2="395.19" y2="400.42"/>
<line x1="390.19" y1="404.51" x2="395.19" y2="404.51"/>
<line x1="412.07" y1="419.84" x2="412.07" y2="422.91"/>
<line x1="409.57" y1="419.84" x2="414.57" y2="419.84"/>
<line x1="409.57" y1="422.91" x2="414.57" y2="422.91"/>
<line x1="422.07" y1="378.7" x2="422.07" y2="384.84"/>
<line x1="419.57" y1="378.7" x2="424.57" y2="378.7"/>
<line x1="419.57" y1="384.84" x2="424.57" y2="384.84"/>
<line x1="441.45" y1="418.05" x2="441.45" y2="419.58"/>
<line x1="438.95" y1="418.05" x2="443.95" y2="418.05"/>
<line x1="438.95" y1="419.58" x2="443.95" y2="419.58"/>
<line x1="451.45" y1="397.87" x2="451.45" y2="404"/>
<line x1="448.95" y1="397.87" x2="453.95" y2="397.87"/>
<line x1="448.95" y1="404" x2="453.95" y2="404"/>
<line x1="470.83" y1="416.77" x2="470.83" y2="419.33"/>
<line x1="468.33" y1="416.77" x2="473.33" y2="416.77"/>
<line x1="468.33" y1="419.33" x2="473.33" y2="419.33"/>
<line x1="480.83" y1="379.21" x2="480.83" y2="386.88"/>
<line x1="478.33" y1="379.21" x2="483.33" y2="379.21"/>
<line x1="478.33" y1="386.88" x2="483.33" y2="386.88"/>
<line x1="500.21" y1="415.5" x2="500.21" y2="417.54"/>
<line x1="497.71" y1="415.5" x2="502.71" y2="415.5"/>
<line x1="497.71" y1="417.54" x2="502.71" y2="417.54"/>
<line x1="510.21" y1="368.48" x2="510.21" y2="379.73"/>
<line x1="507.71" y1="368.48" x2="512.71" y2="368.48"/>
<line x1="507.71" y1="379.73" x2="512.71" y2="379.73"/>
<line x1="529.6" y1="414.47" x2="529.6" y2="417.03"/>
<line x1="527.1" y1="414.47" x2="532.1" y2="414.47"/>
<line x1="527.1" y1="417.03" x2="532.1" y2="417.03"/>
<line x1="539.6" y1="350.6" x2="539.6" y2="361.84"/>
<line x1="537.1" y1="350.6" x2="542.1" y2="350.6"/>
<line x1="537.1" y1="361.84" x2="542.1" y2="361.84"/>
<line x1="558.98" y1="408.6" x2="558.98" y2="411.15"/>
<line x1="556.48" y1="408.6" x2="561.48" y2="408.6"/>
<line x1="556.48" y1="411.15" x2="561.48" y2="411.15"/>
<line x1="568.98" y1="366.18" x2="568.98" y2="372.32"/>
<line x1="566.48" y1="366.18" x2="571.48" y2="366.18"/>
<line x1="566.48" y1="372.32" x2="571.48" y2="372.32"/>
<line x1="588.36" y1="395.31" x2="588.36" y2="406.55"/>
<line x1="585.86" y1="395.31" x2="590.86" y2="395.31"/>
<line x1="585.86" y1="406.55" x2="590.86" y2="406.55"/>
<line x1="598.36" y1="352.64" x2="598.36" y2="359.29"/>
<line x1="595.86" y1="352.64" x2="600.86" y2="352.64"/>
<line x1="595.86" y1="359.29" x2="600.86" y2="359.29"/>
<line x1="617.74" y1="396.08" x2="617.74" y2="401.19"/>
<line x1="615.24" y1="396.08" x2="620.24" y2="396.08"/>
<line x1="615.24" y1="401.19" x2="620.24" y2="401.19"/>
<line x1="627.74" y1="363.88" x2="627.74" y2="374.11"/>
<line x1="625.24" y1="363.88" x2="630.24" y2="363.88"/>
<line x1="625.24" y1="374.11" x2="630.24" y2="374.11"/>
<line x1="647.12" y1="388.41" x2="647.12" y2="400.17"/>
<line x1="644.62" y1="388.41" x2="649.62" y2="388.41"/>
<line x1="644.62" y1="400.17" x2="649.62" y2="400.17"/>
<line x1="657.12" y1="309.21" x2="657.12" y2="320.45"/>
<line x1="654.62" y1="309.21" x2="659.62" y2="309.21"/>
<line x1="654.62" y1="320.45" x2="659.62" y2="320.45"/>
</g>
<rect x="64.5" y="282.4" width="617" height="165.8" fill="none" stroke="#2b2b2b" stroke-width="1.3"/>
<g stroke="#2b2b2b" stroke-width="1.2">
<line x1="64.5" y1="422.65" x2="68.7" y2="422.65"/>
<line x1="681.5" y1="422.65" x2="677.3" y2="422.65"/>
<line x1="64.5" y1="397.1" x2="68.7" y2="397.1"/>
<line x1="681.5" y1="397.1" x2="677.3" y2="397.1"/>
<line x1="64.5" y1="371.55" x2="68.7" y2="371.55"/>
<line x1="681.5" y1="371.55" x2="677.3" y2="371.55"/>
<line x1="64.5" y1="346" x2="68.7" y2="346"/>
<line x1="681.5" y1="346" x2="677.3" y2="346"/>
<line x1="64.5" y1="320.45" x2="68.7" y2="320.45"/>
<line x1="681.5" y1="320.45" x2="677.3" y2="320.45"/>
<line x1="64.5" y1="294.9" x2="68.7" y2="294.9"/>
<line x1="681.5" y1="294.9" x2="677.3" y2="294.9"/>
<line x1="64.5" y1="435.43" x2="66.9" y2="435.43"/>
<line x1="681.5" y1="435.43" x2="679.1" y2="435.43"/>
<line x1="64.5" y1="409.88" x2="66.9" y2="409.88"/>
<line x1="681.5" y1="409.88" x2="679.1" y2="409.88"/>
<line x1="64.5" y1="384.32" x2="66.9" y2="384.32"/>
<line x1="681.5" y1="384.32" x2="679.1" y2="384.32"/>
<line x1="64.5" y1="358.77" x2="66.9" y2="358.77"/>
<line x1="681.5" y1="358.77" x2="679.1" y2="358.77"/>
<line x1="64.5" y1="333.23" x2="66.9" y2="333.23"/>
<line x1="681.5" y1="333.23" x2="679.1" y2="333.23"/>
<line x1="64.5" y1="307.67" x2="66.9" y2="307.67"/>
<line x1="681.5" y1="307.67" x2="679.1" y2="307.67"/>
<line x1="64.5" y1="282.12" x2="66.9" y2="282.12"/>
<line x1="681.5" y1="282.12" x2="679.1" y2="282.12"/>
</g>
<g font-size="16" fill="#111" text-anchor="end">
<text x="58.8" y="453.4">0</text>
<text x="58.8" y="427.85">100</text>
<text x="58.8" y="402.3">200</text>
<text x="58.8" y="376.75">300</text>
<text x="58.8" y="351.2">400</text>
<text x="58.8" y="325.65">500</text>
<text x="58.8" y="300.1">600</text>
</g>
<g font-size="16" fill="#111" text-anchor="middle">
<text x="93.88" y="465.6">1</text>
<text x="123.26" y="465.6">2</text>
<text x="152.64" y="465.6">3</text>
<text x="182.02" y="465.6">4</text>
<text x="211.4" y="465.6">5</text>
<text x="240.79" y="465.6">6</text>
<text x="270.17" y="465.6">7</text>
<text x="299.55" y="465.6">8</text>
<text x="328.93" y="465.6">9</text>
<text x="358.31" y="465.6">10</text>
<text x="387.69" y="465.6">11</text>
<text x="417.07" y="465.6">12</text>
<text x="446.45" y="465.6">13</text>
<text x="475.83" y="465.6">14</text>
<text x="505.21" y="465.6">15</text>
<text x="534.6" y="465.6">16</text>
<text x="563.98" y="465.6">17</text>
<text x="593.36" y="465.6">18</text>
<text x="622.74" y="465.6">19</text>
<text x="652.12" y="465.6">20</text>
</g>
<text x="366.5" y="488.3" font-size="15.6" text-anchor="middle" fill="#111">Single NV label</text>
<text transform="translate(22.6,388.6) rotate(-90)" font-size="16" fill="#111">T<tspan font-size="11.5" dy="4.2">2</tspan><tspan dy="-4.2"> (μs)</tspan></text>
<text transform="translate(-0.5,306) scale(0.98,1)" font-size="37" font-weight="bold" fill="#1a1a1a" stroke="#1a1a1a" stroke-width="0.6">b</text>
<rect x="80" y="291.1" width="33" height="16.1" fill="#0000ff"/>
<rect x="80" y="309.1" width="33" height="16.1" fill="#f04444"/>
<text x="117" y="304" font-size="14.3" fill="#111">Original</text>
<text x="117" y="322" font-size="14.5" fill="#111">Enhanced</text>
<text x="579" y="307" font-size="15.2" fill="#111">522μs</text>
<line x1="629.3" y1="309.7" x2="642" y2="318.6" stroke="#111" stroke-width="1.4"/>
<polygon points="648,322.8 638.5,319.5 642.5,314" fill="#111"/>
<rect x="269.1" y="291.6" width="25.6" height="11.9" fill="#0aa8e0"/>
<rect x="269.1" y="306.6" width="25.6" height="11.7" fill="#e8a2c0"/>
<rect x="269.1" y="321.5" width="25.6" height="11.7" fill="#d84a5c"/>
<text x="298.8" y="301.5" font-size="12" fill="#111">&lt; 2 fold</text>
<text x="298.8" y="316.5" font-size="12" fill="#111">2 - 3 fold</text>
<text x="298.8" y="331.5" font-size="12" fill="#111">&gt; 3 fold</text>
<polygon points="278.5,358.4 278.5,358.83 278.49,359.26 278.47,359.68 278.45,360.11 278.41,360.54 278.38,360.96 278.33,361.39 278.28,361.81 278.22,362.24 278.16,362.66 278.09,363.09 278.01,363.51 277.93,363.93 277.83,364.36 277.74,364.78 277.63,365.2 277.52,365.62 277.4,366.03 277.28,366.45 277.14,366.87 277.01,367.28 276.86,367.69 276.71,368.11 276.55,368.52 276.39,368.92 276.22,369.33 276.04,369.74 275.86,370.14 275.67,370.54 275.47,370.94 275.27,371.34 275.06,371.74 274.84,372.13 274.62,372.52 274.39,372.92 274.16,373.3 273.92,373.69 273.67,374.07 273.42,374.45 273.16,374.83 272.89,375.21 272.62,375.58 272.35,375.96 272.06,376.32 271.78,376.69 271.48,377.05 271.18,377.42 270.88,377.77 270.88,384.47 271.18,384.12 271.48,383.75 271.78,383.39 272.06,383.02 272.35,382.66 272.62,382.28 272.89,381.91 273.16,381.53 273.42,381.15 273.67,380.77 273.92,380.39 274.16,380 274.39,379.62 274.62,379.22 274.84,378.83 275.06,378.44 275.27,378.04 275.47,377.64 275.67,377.24 275.86,376.84 276.04,376.44 276.22,376.03 276.39,375.62 276.55,375.22 276.71,374.81 276.86,374.39 277.01,373.98 277.14,373.57 277.28,373.15 277.4,372.73 277.52,372.32 277.63,371.9 277.74,371.48 277.83,371.06 277.93,370.63 278.01,370.21 278.09,369.79 278.16,369.36 278.22,368.94 278.28,368.51 278.33,368.09 278.38,367.66 278.41,367.24 278.45,366.81 278.47,366.38 278.49,365.96 278.5,365.53 278.5,365.1" fill="#d04456" stroke="#d04456" stroke-width="0.3"/>
<polygon points="270.88,377.77 269.5,379.27 268.03,380.72 266.45,382.1 264.79,383.42 263.04,384.67 261.2,385.85 259.29,386.95 257.31,387.98 255.25,388.93 253.14,389.79 250.97,390.57 248.75,391.26 246.49,391.86 244.18,392.36 241.85,392.78 239.49,393.1 237.11,393.33 234.72,393.46 232.33,393.5 229.93,393.44 227.54,393.29 225.17,393.04 222.82,392.69 220.49,392.26 218.19,391.73 215.94,391.11 213.73,390.4 211.57,389.6 209.47,388.72 207.43,387.75 205.46,386.71 203.57,385.59 201.75,384.39 200.02,383.13 198.38,381.79 196.83,380.39 195.38,378.94 194.03,377.42 192.78,375.86 191.64,374.24 190.62,372.59 189.71,370.89 188.91,369.16 188.24,367.41 187.68,365.62 187.25,363.82 186.94,362 186.76,360.18 186.76,366.88 186.94,368.7 187.25,370.52 187.68,372.32 188.24,374.11 188.91,375.86 189.71,377.59 190.62,379.29 191.64,380.94 192.78,382.56 194.03,384.12 195.38,385.64 196.83,387.09 198.38,388.49 200.02,389.83 201.75,391.09 203.57,392.29 205.46,393.41 207.43,394.45 209.47,395.42 211.57,396.3 213.73,397.1 215.94,397.81 218.19,398.43 220.49,398.96 222.82,399.39 225.17,399.74 227.54,399.99 229.93,400.14 232.33,400.2 234.72,400.16 237.11,400.03 239.49,399.8 241.85,399.48 244.18,399.06 246.49,398.56 248.75,397.96 250.97,397.27 253.14,396.49 255.25,395.63 257.31,394.68 259.29,393.65 261.2,392.55 263.04,391.37 264.79,390.12 266.45,388.8 268.03,387.42 269.5,385.97 270.88,384.47" fill="#0aa8e0" stroke="#0aa8e0" stroke-width="0.3"/>
<polygon points="186.76,360.18 186.76,360.14 186.75,360.1 186.75,360.06 186.75,360.03 186.75,359.99 186.75,359.95 186.74,359.92 186.74,359.88 186.74,359.84 186.74,359.81 186.73,359.77 186.73,359.73 186.73,359.7 186.73,359.66 186.73,359.62 186.73,359.58 186.72,359.55 186.72,359.51 186.72,359.47 186.72,359.44 186.72,359.4 186.72,359.36 186.72,359.33 186.71,359.29 186.71,359.25 186.71,359.21 186.71,359.18 186.71,359.14 186.71,359.1 186.71,359.07 186.71,359.03 186.71,358.99 186.71,358.96 186.71,358.92 186.7,358.88 186.7,358.84 186.7,358.81 186.7,358.77 186.7,358.73 186.7,358.7 186.7,358.66 186.7,358.62 186.7,358.59 186.7,358.55 186.7,358.51 186.7,358.47 186.7,358.44 186.7,358.4 186.7,365.1 186.7,365.14 186.7,365.17 186.7,365.21 186.7,365.25 186.7,365.29 186.7,365.32 186.7,365.36 186.7,365.4 186.7,365.43 186.7,365.47 186.7,365.51 186.7,365.54 186.7,365.58 186.71,365.62 186.71,365.66 186.71,365.69 186.71,365.73 186.71,365.77 186.71,365.8 186.71,365.84 186.71,365.88 186.71,365.91 186.71,365.95 186.71,365.99 186.72,366.03 186.72,366.06 186.72,366.1 186.72,366.14 186.72,366.17 186.72,366.21 186.72,366.25 186.73,366.28 186.73,366.32 186.73,366.36 186.73,366.4 186.73,366.43 186.73,366.47 186.74,366.51 186.74,366.54 186.74,366.58 186.74,366.62 186.75,366.65 186.75,366.69 186.75,366.73 186.75,366.76 186.75,366.8 186.76,366.84 186.76,366.88" fill="#e8a2c0" stroke="#e8a2c0" stroke-width="0.3"/>
<polygon points="232.6,358.4 186.76,360.18 186.71,357.88 186.85,355.58 187.19,353.3 187.72,351.04 188.45,348.81 189.36,346.62 190.46,344.48 191.75,342.4 193.2,340.39 194.83,338.46 196.61,336.61 198.56,334.86 200.64,333.2 202.87,331.66 205.22,330.23 207.69,328.92 210.27,327.73 212.94,326.68 215.7,325.77 218.52,324.99 221.41,324.36 224.35,323.87 227.32,323.53 230.32,323.34 233.32,323.3 236.32,323.42 239.31,323.68 242.27,324.09 245.18,324.64 248.04,325.35 250.84,326.19 253.56,327.17 256.18,328.29 258.71,329.53 261.13,330.9 263.42,332.39 265.58,333.99 267.6,335.69 269.46,337.49 271.17,339.38 272.72,341.35 274.09,343.39 275.29,345.5 276.3,347.67 277.13,349.88 277.76,352.12 278.2,354.39 278.45,356.69" fill="#e8a2c0" stroke="#fff" stroke-width="0.9" stroke-linejoin="round"/>
<polygon points="232.6,358.4 278.45,356.69 278.47,357.15 278.49,357.61 278.5,358.07 278.5,358.54 278.49,359 278.48,359.46 278.46,359.93 278.43,360.39 278.39,360.85 278.34,361.31 278.29,361.78 278.23,362.24 278.15,362.7 278.08,363.16 277.99,363.61 277.9,364.07 277.79,364.53 277.69,364.98 277.57,365.44 277.44,365.89 277.31,366.34 277.17,366.79 277.02,367.24 276.86,367.69 276.7,368.14 276.53,368.58 276.35,369.02 276.16,369.46 275.96,369.9 275.76,370.34 275.55,370.77 275.34,371.21 275.11,371.64 274.88,372.07 274.64,372.49 274.39,372.91 274.14,373.33 273.88,373.75 273.61,374.17 273.33,374.58 273.05,374.99 272.76,375.4 272.46,375.8 272.16,376.2 271.85,376.6 271.53,376.99 271.21,377.38 270.88,377.77" fill="#d84a5c" stroke="#fff" stroke-width="0.9" stroke-linejoin="round"/>
<polygon points="232.6,358.4 270.88,377.77 269.5,379.27 268.03,380.72 266.45,382.1 264.79,383.42 263.04,384.67 261.2,385.85 259.29,386.95 257.31,387.98 255.25,388.93 253.14,389.79 250.97,390.57 248.75,391.26 246.49,391.86 244.18,392.36 241.85,392.78 239.49,393.1 237.11,393.33 234.72,393.46 232.33,393.5 229.93,393.44 227.54,393.29 225.17,393.04 222.82,392.69 220.49,392.26 218.19,391.73 215.94,391.11 213.73,390.4 211.57,389.6 209.47,388.72 207.43,387.75 205.46,386.71 203.57,385.59 201.75,384.39 200.02,383.13 198.38,381.79 196.83,380.39 195.38,378.94 194.03,377.42 192.78,375.86 191.64,374.24 190.62,372.59 189.71,370.89 188.91,369.16 188.24,367.41 187.68,365.62 187.25,363.82 186.94,362 186.76,360.18" fill="#0aa8e0" stroke="#fff" stroke-width="0.9" stroke-linejoin="round"/>
<text x="227.9" y="349" font-size="12.5" text-anchor="middle" fill="#111">50%</text>
<text x="264.5" y="369.4" font-size="12.5" text-anchor="middle" fill="#111">10%</text>
<text x="227.9" y="381.6" font-size="12.5" text-anchor="middle" fill="#111">40%</text>
</svg></body></html>
